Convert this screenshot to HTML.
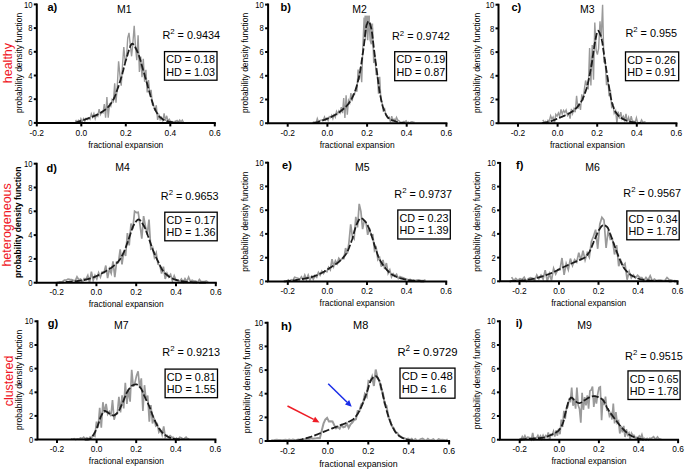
<!DOCTYPE html>
<html><head><meta charset="utf-8"><style>
html,body{margin:0;padding:0;background:#fff;width:685px;height:470px;overflow:hidden;}
svg{display:block;}
text{font-family:"Liberation Sans", sans-serif;fill:#000;}
</style></head><body>
<svg width="685" height="470" viewBox="0 0 685 470">
<rect width="685" height="470" fill="#fff"/>
<path d="M75.7,119.9 L77.0,122.7 L78.3,120.5 L79.6,122.8 L80.9,118.7 L82.2,121.8 L83.5,118.7 L84.8,121.1 L86.1,118.3 L87.4,119.5 L88.7,118.0 L90.0,119.3 L91.3,113.8 L92.6,117.3 L93.9,113.6 L95.2,118.7 L96.5,114.8 L97.8,116.2 L99.1,109.1 L100.4,114.6 L101.7,112.1 L103.0,112.9 L104.3,104.0 L105.6,117.8 L106.9,97.1 L108.2,117.8 L109.5,104.4 L110.8,106.3 L112.1,99.7 L113.4,101.5 L114.7,83.4 L116.0,102.7 L117.3,86.0 L118.6,61.3 L119.9,74.9 L121.2,85.6 L122.5,65.3 L123.8,47.1 L125.1,60.7 L126.4,59.7 L127.7,38.2 L129.0,32.8 L130.3,45.3 L131.6,56.3 L132.9,42.7 L134.2,25.7 L135.5,47.2 L136.8,60.2 L138.1,35.2 L139.4,71.9 L140.7,56.5 L142.0,77.3 L143.3,58.9 L144.6,81.8 L145.9,69.8 L147.2,92.5 L148.5,80.0 L149.8,93.8 L151.1,89.9 L152.4,104.7 L153.7,105.8 L155.0,110.8 L156.3,105.2 L157.6,119.9 L158.9,115.2 L160.2,119.8 L161.5,117.5 L162.8,121.5 L164.1,113.3 L165.4,120.8 L166.7,115.8 L168.0,121.0 L169.3,119.3 L170.6,121.6 L171.9,121.5 L173.2,122.7 L174.5,121.5 L175.8,121.0 L177.1,120.3 L178.4,122.2 L179.7,120.1 L181.0,122.2 L182.3,120.1 L183.6,122.5" fill="none" stroke="#9a9a9a" stroke-width="1.4" stroke-linejoin="miter"/>
<path d="M74.6,122.9 L75.0,122.8 L75.4,122.7 L75.7,122.5 L76.1,122.4 L76.5,122.3 L76.9,122.2 L77.2,122.1 L77.6,122.0 L78.0,121.8 L78.3,121.7 L78.7,121.6 L79.1,121.5 L79.5,121.3 L79.8,121.2 L80.2,121.1 L80.6,121.0 L81.0,120.9 L81.3,120.7 L81.7,120.6 L82.1,120.5 L82.4,120.4 L82.8,120.3 L83.2,120.1 L83.6,120.0 L83.9,119.9 L84.3,119.7 L84.7,119.6 L85.0,119.5 L85.4,119.4 L85.8,119.2 L86.2,119.1 L86.5,119.0 L86.9,118.8 L87.3,118.7 L87.6,118.5 L88.0,118.4 L88.4,118.3 L88.8,118.1 L89.1,118.0 L89.5,117.8 L89.9,117.7 L90.3,117.6 L90.6,117.4 L91.0,117.3 L91.4,117.1 L91.7,117.0 L92.1,116.9 L92.5,116.7 L92.9,116.6 L93.2,116.4 L93.6,116.2 L94.0,116.1 L94.3,115.9 L94.7,115.8 L95.1,115.6 L95.5,115.4 L95.8,115.3 L96.2,115.1 L96.6,114.9 L96.9,114.8 L97.3,114.6 L97.7,114.4 L98.1,114.2 L98.4,114.0 L98.8,113.8 L99.2,113.6 L99.6,113.4 L99.9,113.2 L100.3,113.0 L100.7,112.8 L101.0,112.5 L101.4,112.3 L101.8,112.1 L102.2,111.8 L102.5,111.6 L102.9,111.3 L103.3,111.1 L103.6,110.8 L104.0,110.5 L104.4,110.3 L104.8,110.0 L105.1,109.7 L105.5,109.4 L105.9,109.0 L106.3,108.7 L106.6,108.4 L107.0,108.0 L107.4,107.7 L107.7,107.3 L108.1,107.0 L108.5,106.6 L108.9,106.1 L109.2,105.7 L109.6,105.3 L110.0,104.8 L110.3,104.3 L110.7,103.8 L111.1,103.3 L111.5,102.8 L111.8,102.2 L112.2,101.6 L112.6,101.0 L112.9,100.4 L113.3,99.7 L113.7,99.0 L114.1,98.2 L114.4,97.4 L114.8,96.5 L115.2,95.5 L115.6,94.5 L115.9,93.5 L116.3,92.4 L116.7,91.4 L117.0,90.3 L117.4,89.3 L117.8,88.2 L118.2,87.2 L118.5,86.1 L118.9,85.0 L119.3,83.8 L119.6,82.7 L120.0,81.5 L120.4,80.3 L120.8,79.1 L121.1,77.9 L121.5,76.7 L121.9,75.4 L122.3,74.0 L122.6,72.6 L123.0,71.2 L123.4,69.7 L123.7,68.2 L124.1,66.7 L124.5,65.3 L124.9,63.8 L125.2,62.4 L125.6,61.1 L126.0,59.8 L126.3,58.6 L126.7,57.4 L127.1,56.2 L127.5,55.0 L127.8,53.8 L128.2,52.5 L128.6,51.3 L128.9,50.1 L129.3,48.9 L129.7,47.8 L130.1,46.8 L130.4,45.9 L130.8,45.2 L131.2,44.6 L131.6,44.1 L131.9,43.8 L132.3,43.7 L132.7,43.8 L133.0,44.0 L133.4,44.3 L133.8,44.8 L134.2,45.3 L134.5,45.9 L134.9,46.5 L135.3,47.2 L135.6,48.0 L136.0,48.7 L136.4,49.5 L136.8,50.4 L137.1,51.2 L137.5,52.0 L137.9,52.8 L138.2,53.7 L138.6,54.7 L139.0,55.8 L139.4,56.9 L139.7,58.1 L140.1,59.3 L140.5,60.6 L140.9,61.9 L141.2,63.2 L141.6,64.5 L142.0,65.9 L142.3,67.1 L142.7,68.4 L143.1,69.7 L143.5,70.9 L143.8,72.2 L144.2,73.5 L144.6,74.9 L144.9,76.2 L145.3,77.5 L145.7,78.9 L146.1,80.2 L146.4,81.5 L146.8,82.8 L147.2,84.1 L147.6,85.5 L147.9,86.8 L148.3,88.2 L148.7,89.5 L149.0,90.8 L149.4,92.1 L149.8,93.4 L150.2,94.7 L150.5,96.0 L150.9,97.2 L151.3,98.4 L151.6,99.7 L152.0,100.9 L152.4,102.1 L152.8,103.3 L153.1,104.5 L153.5,105.6 L153.9,106.6 L154.2,107.6 L154.6,108.5 L155.0,109.2 L155.4,110.0 L155.7,110.7 L156.1,111.5 L156.5,112.1 L156.9,112.8 L157.2,113.4 L157.6,114.0 L158.0,114.6 L158.3,115.1 L158.7,115.6 L159.1,116.1 L159.5,116.5 L159.8,116.8 L160.2,117.2 L160.6,117.5 L160.9,117.8 L161.3,118.1 L161.7,118.4 L162.1,118.7 L162.4,119.0 L162.8,119.3 L163.2,119.5 L163.6,119.7 L163.9,119.9 L164.3,120.1 L164.7,120.3 L165.0,120.5 L165.4,120.6 L165.8,120.7 L166.2,120.9 L166.5,121.0 L166.9,121.1 L167.3,121.2 L167.6,121.3 L168.0,121.4 L168.4,121.5 L168.8,121.6 L169.1,121.7 L169.5,121.8 L169.9,121.8 L170.2,121.9 L170.6,122.0 L171.0,122.0 L171.4,122.1 L171.7,122.2 L172.1,122.2 L172.5,122.3 L172.9,122.3 L173.2,122.4 L173.6,122.4 L174.0,122.4 L174.3,122.4 L174.7,122.5 L175.1,122.5 L175.5,122.5 L175.8,122.5 L176.2,122.6 L176.6,122.6 L176.9,122.6 L177.3,122.6 L177.7,122.7 L178.1,122.7 L178.4,122.7 L178.8,122.7 L179.2,122.7 L179.5,122.7 L179.9,122.8 L180.3,122.8 L180.7,122.8 L181.0,122.8 L181.4,122.8 L181.8,122.8 L182.2,122.8 L182.5,122.9 L182.9,122.9 L183.3,122.9 L183.6,122.9 L184.0,122.9 L184.4,122.9 L184.8,122.9 L185.1,122.9 L185.5,122.9 L185.9,122.9" fill="none" stroke="#1c1c1c" stroke-width="1.8" stroke-dasharray="7 2.2"/>
<path d="M36.8,3.4 V122.9 H215.8" fill="none" stroke="#000" stroke-width="2"/>
<line x1="33.8" y1="122.9" x2="36.8" y2="122.9" stroke="#000" stroke-width="2"/>
<text transform="translate(32.5,126.0) scale(0.88,1)" text-anchor="end" font-size="8.70">0</text>
<line x1="33.8" y1="99.2" x2="36.8" y2="99.2" stroke="#000" stroke-width="2"/>
<text transform="translate(32.5,102.3) scale(0.88,1)" text-anchor="end" font-size="8.70">2</text>
<line x1="33.8" y1="75.5" x2="36.8" y2="75.5" stroke="#000" stroke-width="2"/>
<text transform="translate(32.5,78.6) scale(0.88,1)" text-anchor="end" font-size="8.70">4</text>
<line x1="33.8" y1="51.8" x2="36.8" y2="51.8" stroke="#000" stroke-width="2"/>
<text transform="translate(32.5,54.9) scale(0.88,1)" text-anchor="end" font-size="8.70">6</text>
<line x1="33.8" y1="28.1" x2="36.8" y2="28.1" stroke="#000" stroke-width="2"/>
<text transform="translate(32.5,31.2) scale(0.88,1)" text-anchor="end" font-size="8.70">8</text>
<line x1="33.8" y1="4.4" x2="36.8" y2="4.4" stroke="#000" stroke-width="2"/>
<text transform="translate(32.5,7.5) scale(0.88,1)" text-anchor="end" font-size="8.70">10</text>
<line x1="36.8" y1="122.9" x2="36.8" y2="126.4" stroke="#000" stroke-width="2"/>
<text x="36.8" y="135.6" text-anchor="middle" font-size="8.40">-0.2</text>
<line x1="81.3" y1="122.9" x2="81.3" y2="126.4" stroke="#000" stroke-width="2"/>
<text x="81.3" y="135.6" text-anchor="middle" font-size="8.40">0.0</text>
<line x1="125.8" y1="122.9" x2="125.8" y2="126.4" stroke="#000" stroke-width="2"/>
<text x="125.8" y="135.6" text-anchor="middle" font-size="8.40">0.2</text>
<line x1="170.3" y1="122.9" x2="170.3" y2="126.4" stroke="#000" stroke-width="2"/>
<text x="170.3" y="135.6" text-anchor="middle" font-size="8.40">0.4</text>
<line x1="214.8" y1="122.9" x2="214.8" y2="126.4" stroke="#000" stroke-width="2"/>
<text x="214.8" y="135.6" text-anchor="middle" font-size="8.40">0.6</text>
<text x="125.8" y="147.5" text-anchor="middle" font-size="8.45">fractional expansion</text>
<text transform="translate(21.5,62.9) rotate(-90)" text-anchor="middle" font-size="8.50">probability density function</text>
<text x="47.5" y="11.2" font-size="11.00" font-weight="bold">a)</text>
<text x="117.1" y="13.1" font-size="10.50">M1</text>
<text x="162.4" y="38.6" font-size="10.85">R<tspan font-size="7.80" dy="-4.7">2</tspan><tspan dy="4.7"> = 0.9434</tspan></text>
<rect x="164.5" y="51.6" width="52.5" height="28.6" fill="none" stroke="#000" stroke-width="1.3"/>
<text x="166.2" y="63.2" font-size="10.80">CD = 0.18</text>
<text x="166.2" y="75.5" font-size="10.80">HD = 1.03</text>
<path d="M312.5,122.8 L313.7,122.0 L314.9,122.2 L316.1,122.8 L317.3,118.6 L318.5,122.0 L319.7,120.5 L320.9,120.1 L322.1,120.0 L323.3,120.0 L324.5,116.9 L325.7,119.9 L326.9,118.1 L328.1,120.5 L329.3,116.6 L330.5,117.6 L331.7,115.2 L332.9,118.7 L334.1,114.8 L335.3,117.1 L336.5,111.4 L337.7,114.0 L338.9,110.8 L340.1,112.8 L341.3,107.1 L342.5,113.2 L343.7,98.1 L344.9,117.9 L346.1,95.4 L347.3,114.7 L348.5,100.4 L349.7,103.0 L350.9,93.2 L352.1,101.2 L353.3,94.3 L354.5,94.7 L355.7,88.2 L356.9,91.8 L358.1,69.5 L359.3,79.6 L360.5,66.7 L361.7,82.3 L362.9,45.0 L364.1,17.6 L365.3,40.2 L366.5,17.6 L367.7,40.2 L368.9,17.6 L370.1,40.2 L371.3,44.3 L372.5,27.6 L373.7,63.1 L374.9,55.1 L376.1,74.3 L377.3,74.4 L378.5,93.8 L379.7,76.8 L380.9,100.1 L382.1,102.7 L383.3,111.7 L384.5,107.9 L385.7,114.7 L386.9,115.6 L388.1,118.2 L389.3,117.2 L390.5,122.4 L391.7,116.1 L392.9,120.5 L394.1,119.1 L395.3,120.6 L396.5,117.4 L397.7,120.1 L398.9,120.5 L400.1,123.1 L401.3,122.5 L402.5,122.2 L403.7,121.4 L404.9,121.7 L406.1,120.8 L407.3,122.8 L408.5,122.1 L409.7,123.0 L410.9,121.9 L412.1,121.8 L413.3,122.1 L414.5,122.3" fill="none" stroke="#9a9a9a" stroke-width="1.4" stroke-linejoin="miter"/>
<rect x="364.4" y="15.6" width="5.6" height="12" fill="#9e9e9e"/>
<rect x="370" y="23.5" width="3.2" height="17" fill="#a4a4a4"/>
<path d="M313.5,123.2 L313.8,123.1 L314.1,123.1 L314.4,123.0 L314.7,122.9 L315.1,122.8 L315.4,122.7 L315.7,122.7 L316.0,122.6 L316.3,122.5 L316.6,122.4 L316.9,122.3 L317.2,122.2 L317.5,122.1 L317.8,122.1 L318.1,122.0 L318.4,121.9 L318.7,121.8 L319.0,121.7 L319.4,121.6 L319.7,121.5 L320.0,121.4 L320.3,121.3 L320.6,121.2 L320.9,121.1 L321.2,121.0 L321.5,120.9 L321.8,120.8 L322.1,120.7 L322.4,120.6 L322.7,120.4 L323.0,120.3 L323.3,120.2 L323.7,120.1 L324.0,120.0 L324.3,119.9 L324.6,119.8 L324.9,119.7 L325.2,119.5 L325.5,119.4 L325.8,119.3 L326.1,119.2 L326.4,119.0 L326.7,118.9 L327.0,118.8 L327.3,118.7 L327.6,118.5 L328.0,118.4 L328.3,118.3 L328.6,118.1 L328.9,118.0 L329.2,117.9 L329.5,117.7 L329.8,117.6 L330.1,117.5 L330.4,117.3 L330.7,117.2 L331.0,117.0 L331.3,116.9 L331.6,116.7 L331.9,116.6 L332.3,116.4 L332.6,116.3 L332.9,116.1 L333.2,115.9 L333.5,115.8 L333.8,115.6 L334.1,115.4 L334.4,115.3 L334.7,115.1 L335.0,114.9 L335.3,114.7 L335.6,114.6 L335.9,114.4 L336.2,114.2 L336.5,114.0 L336.9,113.8 L337.2,113.6 L337.5,113.4 L337.8,113.2 L338.1,113.0 L338.4,112.8 L338.7,112.6 L339.0,112.4 L339.3,112.2 L339.6,111.9 L339.9,111.7 L340.2,111.5 L340.5,111.3 L340.8,111.0 L341.2,110.8 L341.5,110.6 L341.8,110.3 L342.1,110.1 L342.4,109.8 L342.7,109.6 L343.0,109.3 L343.3,109.1 L343.6,108.8 L343.9,108.5 L344.2,108.3 L344.5,108.0 L344.8,107.7 L345.1,107.4 L345.5,107.1 L345.8,106.8 L346.1,106.5 L346.4,106.2 L346.7,105.9 L347.0,105.5 L347.3,105.2 L347.6,104.8 L347.9,104.4 L348.2,104.1 L348.5,103.7 L348.8,103.3 L349.1,102.9 L349.4,102.4 L349.8,102.0 L350.1,101.5 L350.4,101.1 L350.7,100.6 L351.0,100.0 L351.3,99.5 L351.6,98.9 L351.9,98.4 L352.2,97.8 L352.5,97.2 L352.8,96.5 L353.1,95.9 L353.4,95.2 L353.7,94.5 L354.1,93.7 L354.4,93.0 L354.7,92.2 L355.0,91.4 L355.3,90.6 L355.6,89.8 L355.9,88.8 L356.2,87.9 L356.5,86.8 L356.8,85.7 L357.1,84.6 L357.4,83.4 L357.7,82.2 L358.0,80.9 L358.4,79.6 L358.7,78.3 L359.0,76.9 L359.3,75.4 L359.6,73.9 L359.9,72.4 L360.2,70.9 L360.5,69.2 L360.8,67.4 L361.1,65.4 L361.4,63.4 L361.7,61.2 L362.0,59.1 L362.3,56.8 L362.6,54.5 L363.0,52.3 L363.3,50.0 L363.6,47.8 L363.9,45.5 L364.2,43.1 L364.5,40.4 L364.8,37.7 L365.1,34.9 L365.4,32.3 L365.7,29.9 L366.0,27.8 L366.3,26.1 L366.6,24.9 L366.9,24.1 L367.3,23.3 L367.6,22.5 L367.9,21.9 L368.2,21.5 L368.5,21.2 L368.8,21.2 L369.1,21.5 L369.4,22.1 L369.7,22.8 L370.0,23.7 L370.3,24.8 L370.6,25.9 L370.9,27.0 L371.2,28.3 L371.6,30.0 L371.9,31.9 L372.2,34.2 L372.5,36.6 L372.8,39.2 L373.1,41.8 L373.4,44.4 L373.7,47.0 L374.0,49.4 L374.3,51.7 L374.6,54.1 L374.9,56.5 L375.2,58.9 L375.5,61.3 L375.9,63.7 L376.2,66.1 L376.5,68.5 L376.8,70.8 L377.1,73.1 L377.4,75.3 L377.7,77.6 L378.0,80.0 L378.3,82.3 L378.6,84.6 L378.9,86.8 L379.2,89.0 L379.5,91.1 L379.8,93.0 L380.2,94.8 L380.5,96.4 L380.8,97.9 L381.1,99.4 L381.4,100.8 L381.7,102.2 L382.0,103.4 L382.3,104.6 L382.6,105.8 L382.9,106.8 L383.2,107.7 L383.5,108.6 L383.8,109.4 L384.1,110.3 L384.5,111.1 L384.8,111.9 L385.1,112.6 L385.4,113.3 L385.7,114.0 L386.0,114.7 L386.3,115.3 L386.6,115.8 L386.9,116.3 L387.2,116.8 L387.5,117.2 L387.8,117.5 L388.1,117.8 L388.4,118.0 L388.8,118.3 L389.1,118.5 L389.4,118.7 L389.7,118.9 L390.0,119.1 L390.3,119.3 L390.6,119.5 L390.9,119.6 L391.2,119.8 L391.5,119.9 L391.8,120.1 L392.1,120.2 L392.4,120.4 L392.7,120.5 L393.0,120.6 L393.4,120.7 L393.7,120.8 L394.0,120.9 L394.3,121.0 L394.6,121.1 L394.9,121.2 L395.2,121.3 L395.5,121.4 L395.8,121.5 L396.1,121.6 L396.4,121.6 L396.7,121.7 L397.0,121.8 L397.3,121.9 L397.7,122.0 L398.0,122.0 L398.3,122.1 L398.6,122.2 L398.9,122.3 L399.2,122.3 L399.5,122.4 L399.8,122.5 L400.1,122.6 L400.4,122.6 L400.7,122.7 L401.0,122.7 L401.3,122.8 L401.6,122.8 L402.0,122.9 L402.3,122.9 L402.6,123.0 L402.9,123.0 L403.2,123.1 L403.5,123.1 L403.8,123.1 L404.1,123.1 L404.4,123.2 L404.7,123.2 L405.0,123.2 L405.3,123.2" fill="none" stroke="#1c1c1c" stroke-width="1.8" stroke-dasharray="7 2.2"/>
<path d="M268.1,3.6 V123.2 H447.4" fill="none" stroke="#000" stroke-width="2"/>
<line x1="265.1" y1="123.2" x2="268.1" y2="123.2" stroke="#000" stroke-width="2"/>
<text transform="translate(263.8,126.3) scale(0.88,1)" text-anchor="end" font-size="8.70">0</text>
<line x1="265.1" y1="99.5" x2="268.1" y2="99.5" stroke="#000" stroke-width="2"/>
<text transform="translate(263.8,102.6) scale(0.88,1)" text-anchor="end" font-size="8.70">2</text>
<line x1="265.1" y1="75.8" x2="268.1" y2="75.8" stroke="#000" stroke-width="2"/>
<text transform="translate(263.8,78.9) scale(0.88,1)" text-anchor="end" font-size="8.70">4</text>
<line x1="265.1" y1="52.0" x2="268.1" y2="52.0" stroke="#000" stroke-width="2"/>
<text transform="translate(263.8,55.1) scale(0.88,1)" text-anchor="end" font-size="8.70">6</text>
<line x1="265.1" y1="28.3" x2="268.1" y2="28.3" stroke="#000" stroke-width="2"/>
<text transform="translate(263.8,31.4) scale(0.88,1)" text-anchor="end" font-size="8.70">8</text>
<line x1="265.1" y1="4.6" x2="268.1" y2="4.6" stroke="#000" stroke-width="2"/>
<text transform="translate(263.8,7.7) scale(0.88,1)" text-anchor="end" font-size="8.70">10</text>
<line x1="287.7" y1="123.2" x2="287.7" y2="126.7" stroke="#000" stroke-width="2"/>
<text x="287.7" y="135.9" text-anchor="middle" font-size="8.40">-0.2</text>
<line x1="327.4" y1="123.2" x2="327.4" y2="126.7" stroke="#000" stroke-width="2"/>
<text x="327.4" y="135.9" text-anchor="middle" font-size="8.40">0.0</text>
<line x1="367.1" y1="123.2" x2="367.1" y2="126.7" stroke="#000" stroke-width="2"/>
<text x="367.1" y="135.9" text-anchor="middle" font-size="8.40">0.2</text>
<line x1="406.7" y1="123.2" x2="406.7" y2="126.7" stroke="#000" stroke-width="2"/>
<text x="406.7" y="135.9" text-anchor="middle" font-size="8.40">0.4</text>
<line x1="446.4" y1="123.2" x2="446.4" y2="126.7" stroke="#000" stroke-width="2"/>
<text x="446.4" y="135.9" text-anchor="middle" font-size="8.40">0.6</text>
<text x="357.2" y="147.8" text-anchor="middle" font-size="8.45">fractional expansion</text>
<text transform="translate(248.2,62.9) rotate(-90)" text-anchor="middle" font-size="8.50">probability density function</text>
<text x="280.6" y="11.0" font-size="11.00" font-weight="bold">b)</text>
<text x="352.2" y="13.0" font-size="10.50">M2</text>
<text x="392.0" y="40.2" font-size="10.85">R<tspan font-size="7.80" dy="-4.7">2</tspan><tspan dy="4.7"> = 0.9742</tspan></text>
<rect x="394.7" y="51.7" width="51.8" height="29.0" fill="none" stroke="#000" stroke-width="1.3"/>
<text x="396.4" y="63.3" font-size="10.80">CD = 0.19</text>
<text x="396.4" y="75.6" font-size="10.80">HD = 0.87</text>
<path d="M542.8,119.8 L544.1,122.2 L545.4,121.4 L546.6,123.0 L548.0,120.2 L549.2,121.5 L550.6,115.8 L551.9,119.1 L553.1,117.0 L554.5,122.6 L555.8,114.3 L557.1,116.1 L558.4,113.0 L559.6,116.4 L561.0,109.4 L562.2,114.2 L563.6,110.3 L564.9,112.5 L566.1,110.0 L567.5,115.5 L568.8,113.5 L570.1,118.7 L571.4,108.8 L572.6,113.6 L574.0,108.8 L575.2,112.3 L576.6,95.7 L577.9,108.8 L579.1,103.1 L580.5,109.9 L581.8,94.3 L583.1,100.5 L584.4,88.9 L585.6,80.5 L587.0,85.8 L588.2,89.4 L589.6,48.0 L590.9,85.4 L592.2,45.0 L593.5,79.7 L594.8,22.5 L596.1,50.3 L597.4,54.5 L598.6,48.6 L600.0,21.3 L601.2,38.2 L602.6,4.7 L603.9,62.6 L605.1,59.1 L606.5,85.1 L607.8,77.3 L609.1,96.1 L610.4,90.0 L611.6,106.9 L613.0,104.7 L614.2,113.2 L615.6,110.6 L616.9,123.2 L618.1,111.6 L619.5,118.5 L620.8,112.1 L622.1,118.8 L623.4,116.3 L624.7,120.3 L626.0,113.8 L627.2,121.6 L628.6,117.4 L629.9,123.0 L631.2,116.1 L632.5,121.7 L633.8,121.2 L635.1,122.7 L636.4,117.8 L637.7,122.9 L639.0,122.6 L640.2,123.1 L641.6,119.9 L642.9,122.5 L644.2,121.9 L645.5,121.8" fill="none" stroke="#9a9a9a" stroke-width="1.4" stroke-linejoin="miter"/>
<path d="M541.8,123.2 L542.1,123.2 L542.4,123.1 L542.8,123.1 L543.1,123.0 L543.4,123.0 L543.7,122.9 L544.1,122.9 L544.4,122.8 L544.7,122.8 L545.1,122.7 L545.4,122.6 L545.7,122.6 L546.1,122.5 L546.4,122.4 L546.7,122.4 L547.1,122.3 L547.4,122.2 L547.7,122.2 L548.1,122.1 L548.4,122.0 L548.7,121.9 L549.0,121.8 L549.4,121.7 L549.7,121.6 L550.0,121.5 L550.4,121.4 L550.7,121.3 L551.0,121.2 L551.4,121.1 L551.7,121.0 L552.0,120.8 L552.4,120.7 L552.7,120.6 L553.0,120.5 L553.3,120.3 L553.7,120.2 L554.0,120.1 L554.3,119.9 L554.7,119.8 L555.0,119.7 L555.3,119.5 L555.7,119.4 L556.0,119.3 L556.3,119.1 L556.7,119.0 L557.0,118.8 L557.3,118.7 L557.7,118.6 L558.0,118.4 L558.3,118.3 L558.6,118.1 L559.0,118.0 L559.3,117.9 L559.6,117.7 L560.0,117.6 L560.3,117.4 L560.6,117.3 L561.0,117.2 L561.3,117.0 L561.6,116.9 L562.0,116.8 L562.3,116.6 L562.6,116.5 L563.0,116.3 L563.3,116.2 L563.6,116.1 L563.9,115.9 L564.3,115.8 L564.6,115.6 L564.9,115.5 L565.3,115.3 L565.6,115.2 L565.9,115.0 L566.3,114.9 L566.6,114.7 L566.9,114.5 L567.3,114.4 L567.6,114.2 L567.9,114.0 L568.2,113.9 L568.6,113.7 L568.9,113.5 L569.2,113.3 L569.6,113.1 L569.9,112.9 L570.2,112.7 L570.6,112.5 L570.9,112.3 L571.2,112.1 L571.6,111.9 L571.9,111.7 L572.2,111.5 L572.6,111.2 L572.9,111.0 L573.2,110.7 L573.5,110.5 L573.9,110.2 L574.2,109.9 L574.5,109.7 L574.9,109.4 L575.2,109.1 L575.5,108.8 L575.9,108.5 L576.2,108.1 L576.5,107.8 L576.9,107.4 L577.2,107.1 L577.5,106.7 L577.9,106.3 L578.2,106.0 L578.5,105.5 L578.8,105.1 L579.2,104.7 L579.5,104.3 L579.8,103.8 L580.2,103.3 L580.5,102.9 L580.8,102.4 L581.2,101.8 L581.5,101.2 L581.8,100.6 L582.2,99.9 L582.5,99.3 L582.8,98.5 L583.1,97.8 L583.5,97.0 L583.8,96.2 L584.1,95.3 L584.5,94.5 L584.8,93.6 L585.1,92.6 L585.5,91.7 L585.8,90.7 L586.1,89.7 L586.5,88.6 L586.8,87.5 L587.1,86.4 L587.5,85.1 L587.8,83.8 L588.1,82.3 L588.4,80.9 L588.8,79.3 L589.1,77.7 L589.4,76.1 L589.8,74.4 L590.1,72.7 L590.4,70.9 L590.8,69.1 L591.1,67.3 L591.4,65.5 L591.8,63.5 L592.1,61.3 L592.4,59.1 L592.7,56.7 L593.1,54.3 L593.4,52.0 L593.7,49.6 L594.1,47.4 L594.4,45.4 L594.7,43.5 L595.1,41.8 L595.4,40.2 L595.7,38.5 L596.1,36.8 L596.4,35.2 L596.7,33.7 L597.1,32.5 L597.4,31.5 L597.7,30.9 L598.0,30.8 L598.4,30.9 L598.7,31.2 L599.0,31.7 L599.4,32.3 L599.7,33.1 L600.0,33.9 L600.4,34.8 L600.7,35.8 L601.0,36.8 L601.4,37.8 L601.7,39.2 L602.0,40.9 L602.4,42.8 L602.7,45.0 L603.0,47.2 L603.3,49.6 L603.7,52.0 L604.0,54.4 L604.3,56.7 L604.7,58.9 L605.0,61.0 L605.3,63.1 L605.7,65.3 L606.0,67.5 L606.3,69.7 L606.7,71.9 L607.0,74.1 L607.3,76.2 L607.6,78.3 L608.0,80.4 L608.3,82.5 L608.6,84.4 L609.0,86.5 L609.3,88.5 L609.6,90.6 L610.0,92.7 L610.3,94.7 L610.6,96.6 L611.0,98.4 L611.3,100.0 L611.6,101.5 L612.0,102.7 L612.3,103.8 L612.6,104.8 L612.9,105.8 L613.3,106.7 L613.6,107.6 L613.9,108.5 L614.3,109.3 L614.6,110.0 L614.9,110.7 L615.3,111.4 L615.6,112.0 L615.9,112.6 L616.3,113.1 L616.6,113.6 L616.9,114.0 L617.3,114.4 L617.6,114.7 L617.9,115.1 L618.2,115.4 L618.6,115.8 L618.9,116.1 L619.2,116.4 L619.6,116.7 L619.9,116.9 L620.2,117.2 L620.6,117.5 L620.9,117.7 L621.2,117.9 L621.6,118.1 L621.9,118.4 L622.2,118.6 L622.5,118.8 L622.9,118.9 L623.2,119.1 L623.5,119.3 L623.9,119.4 L624.2,119.6 L624.5,119.7 L624.9,119.9 L625.2,120.0 L625.5,120.2 L625.9,120.3 L626.2,120.4 L626.5,120.5 L626.9,120.7 L627.2,120.8 L627.5,120.9 L627.8,121.0 L628.2,121.1 L628.5,121.2 L628.8,121.3 L629.2,121.4 L629.5,121.5 L629.8,121.6 L630.2,121.7 L630.5,121.8 L630.8,121.8 L631.2,121.9 L631.5,122.0 L631.8,122.1 L632.2,122.1 L632.5,122.2 L632.8,122.2 L633.1,122.3 L633.5,122.4 L633.8,122.4 L634.1,122.5 L634.5,122.5 L634.8,122.6 L635.1,122.6 L635.5,122.7 L635.8,122.7 L636.1,122.8 L636.5,122.8 L636.8,122.9 L637.1,122.9 L637.4,122.9 L637.8,123.0 L638.1,123.0 L638.4,123.1 L638.8,123.1 L639.1,123.1 L639.4,123.1 L639.8,123.2 L640.1,123.2 L640.4,123.2 L640.8,123.2" fill="none" stroke="#1c1c1c" stroke-width="1.8" stroke-dasharray="7 2.2"/>
<path d="M498.5,3.7 V123.2 H677.4" fill="none" stroke="#000" stroke-width="2"/>
<line x1="495.5" y1="123.2" x2="498.5" y2="123.2" stroke="#000" stroke-width="2"/>
<text transform="translate(494.2,126.3) scale(0.88,1)" text-anchor="end" font-size="8.70">0</text>
<line x1="495.5" y1="99.5" x2="498.5" y2="99.5" stroke="#000" stroke-width="2"/>
<text transform="translate(494.2,102.6) scale(0.88,1)" text-anchor="end" font-size="8.70">2</text>
<line x1="495.5" y1="75.8" x2="498.5" y2="75.8" stroke="#000" stroke-width="2"/>
<text transform="translate(494.2,78.9) scale(0.88,1)" text-anchor="end" font-size="8.70">4</text>
<line x1="495.5" y1="52.1" x2="498.5" y2="52.1" stroke="#000" stroke-width="2"/>
<text transform="translate(494.2,55.2) scale(0.88,1)" text-anchor="end" font-size="8.70">6</text>
<line x1="495.5" y1="28.4" x2="498.5" y2="28.4" stroke="#000" stroke-width="2"/>
<text transform="translate(494.2,31.5) scale(0.88,1)" text-anchor="end" font-size="8.70">8</text>
<line x1="495.5" y1="4.7" x2="498.5" y2="4.7" stroke="#000" stroke-width="2"/>
<text transform="translate(494.2,7.8) scale(0.88,1)" text-anchor="end" font-size="8.70">10</text>
<line x1="518.0" y1="123.2" x2="518.0" y2="126.7" stroke="#000" stroke-width="2"/>
<text x="518.0" y="135.9" text-anchor="middle" font-size="8.40">-0.2</text>
<line x1="557.6" y1="123.2" x2="557.6" y2="126.7" stroke="#000" stroke-width="2"/>
<text x="557.6" y="135.9" text-anchor="middle" font-size="8.40">0.0</text>
<line x1="597.2" y1="123.2" x2="597.2" y2="126.7" stroke="#000" stroke-width="2"/>
<text x="597.2" y="135.9" text-anchor="middle" font-size="8.40">0.2</text>
<line x1="636.8" y1="123.2" x2="636.8" y2="126.7" stroke="#000" stroke-width="2"/>
<text x="636.8" y="135.9" text-anchor="middle" font-size="8.40">0.4</text>
<line x1="676.4" y1="123.2" x2="676.4" y2="126.7" stroke="#000" stroke-width="2"/>
<text x="676.4" y="135.9" text-anchor="middle" font-size="8.40">0.6</text>
<text x="587.5" y="147.8" text-anchor="middle" font-size="8.45">fractional expansion</text>
<text transform="translate(480.2,62.9) rotate(-90)" text-anchor="middle" font-size="8.50">probability density function</text>
<text x="511.5" y="11.0" font-size="11.00" font-weight="bold">c)</text>
<text x="579.9" y="13.0" font-size="10.50">M3</text>
<text x="625.4" y="36.7" font-size="10.85">R<tspan font-size="7.80" dy="-4.7">2</tspan><tspan dy="4.7"> = 0.955</tspan></text>
<rect x="625.5" y="51.9" width="53.2" height="28.8" fill="none" stroke="#000" stroke-width="1.3"/>
<text x="627.2" y="63.5" font-size="10.80">CD = 0.26</text>
<text x="627.2" y="75.8" font-size="10.80">HD = 0.91</text>
<path d="M62.6,281.4 L64.4,280.1 L66.2,280.2 L68.0,279.1 L69.8,279.4 L71.6,279.6 L73.4,280.4 L75.2,280.9 L77.0,276.8 L78.8,279.8 L80.6,279.0 L82.4,281.9 L84.2,278.6 L86.0,279.2 L87.8,275.4 L89.6,282.7 L91.4,271.7 L93.2,280.4 L95.0,275.4 L96.8,279.0 L98.6,272.8 L100.4,277.2 L102.2,272.0 L104.0,272.6 L105.8,265.5 L107.6,278.2 L109.4,269.0 L111.2,273.3 L113.0,261.4 L114.8,277.1 L116.6,262.0 L118.4,262.5 L120.2,249.4 L122.0,264.3 L123.8,251.1 L125.6,255.9 L127.4,233.0 L129.2,245.4 L131.0,223.6 L132.8,229.2 L134.6,211.3 L136.4,212.5 L138.2,212.3 L140.0,224.8 L141.8,238.7 L143.6,216.1 L145.4,226.2 L147.2,234.7 L149.0,219.5 L150.8,248.8 L152.6,247.5 L154.4,257.3 L156.2,252.9 L158.0,264.2 L159.8,265.0 L161.6,273.6 L163.4,266.6 L165.2,279.0 L167.0,273.3 L168.8,277.0 L170.6,274.4 L172.4,280.7 L174.2,275.9 L176.0,280.3 L177.8,280.2 L179.6,281.5 L181.4,279.0 L183.2,282.1 L185.0,278.6 L186.8,281.5 L188.6,277.1 L190.4,281.3 L192.2,280.3 L194.0,281.2 L195.8,281.2 L197.6,282.4 L199.4,279.5 L201.2,281.7 L203.0,281.5 L204.8,281.4 L206.6,281.2 L208.4,282.6" fill="none" stroke="#9a9a9a" stroke-width="1.7" stroke-linejoin="miter"/>
<path d="M56.6,282.7 L57.1,282.7 L57.6,282.6 L58.1,282.6 L58.6,282.6 L59.1,282.5 L59.6,282.5 L60.1,282.5 L60.6,282.4 L61.1,282.4 L61.6,282.4 L62.1,282.3 L62.6,282.3 L63.1,282.3 L63.6,282.2 L64.1,282.2 L64.6,282.2 L65.1,282.1 L65.6,282.1 L66.1,282.0 L66.6,282.0 L67.1,282.0 L67.6,281.9 L68.1,281.9 L68.6,281.8 L69.1,281.8 L69.6,281.7 L70.1,281.7 L70.6,281.7 L71.1,281.6 L71.6,281.6 L72.1,281.5 L72.6,281.5 L73.1,281.4 L73.6,281.4 L74.1,281.4 L74.6,281.3 L75.1,281.3 L75.6,281.2 L76.1,281.2 L76.6,281.1 L77.1,281.1 L77.6,281.0 L78.1,281.0 L78.6,280.9 L79.1,280.8 L79.6,280.8 L80.1,280.7 L80.6,280.7 L81.1,280.6 L81.6,280.5 L82.1,280.4 L82.6,280.4 L83.1,280.3 L83.6,280.2 L84.1,280.1 L84.6,280.0 L85.1,279.9 L85.6,279.7 L86.1,279.6 L86.5,279.5 L87.0,279.4 L87.5,279.2 L88.0,279.1 L88.5,278.9 L89.0,278.8 L89.5,278.6 L90.0,278.5 L90.5,278.3 L91.0,278.1 L91.5,278.0 L92.0,277.8 L92.5,277.6 L93.0,277.5 L93.5,277.3 L94.0,277.1 L94.5,276.9 L95.0,276.7 L95.5,276.5 L96.0,276.3 L96.5,276.0 L97.0,275.8 L97.5,275.6 L98.0,275.3 L98.5,275.1 L99.0,274.8 L99.5,274.6 L100.0,274.3 L100.5,274.1 L101.0,273.8 L101.5,273.5 L102.0,273.3 L102.5,273.0 L103.0,272.7 L103.5,272.5 L104.0,272.2 L104.5,271.9 L105.0,271.7 L105.5,271.4 L106.0,271.1 L106.5,270.8 L107.0,270.5 L107.5,270.2 L108.0,269.9 L108.5,269.6 L109.0,269.3 L109.5,268.9 L110.0,268.6 L110.5,268.2 L111.0,267.9 L111.5,267.5 L112.0,267.2 L112.5,266.8 L113.0,266.4 L113.5,266.0 L114.0,265.6 L114.5,265.2 L115.0,264.8 L115.5,264.4 L116.0,263.9 L116.5,263.4 L117.0,262.9 L117.5,262.4 L118.0,261.9 L118.5,261.3 L119.0,260.6 L119.5,259.9 L120.0,259.2 L120.5,258.4 L121.0,257.6 L121.5,256.7 L122.0,255.8 L122.5,254.8 L123.0,253.8 L123.5,252.8 L124.0,251.8 L124.5,250.6 L125.0,249.4 L125.5,248.1 L126.0,246.7 L126.5,245.3 L127.0,243.9 L127.5,242.5 L128.0,241.0 L128.5,239.6 L129.0,238.2 L129.5,236.8 L130.0,235.3 L130.5,233.8 L131.0,232.2 L131.5,230.6 L132.0,229.2 L132.5,227.8 L133.0,226.6 L133.5,225.6 L134.0,224.7 L134.5,223.9 L135.0,223.1 L135.5,222.3 L136.0,221.6 L136.5,220.9 L137.0,220.4 L137.5,219.9 L138.0,219.6 L138.5,219.5 L139.0,219.6 L139.5,219.8 L140.0,220.2 L140.5,220.7 L141.0,221.3 L141.5,222.0 L142.0,222.8 L142.5,223.6 L143.0,224.4 L143.5,225.2 L144.0,226.0 L144.5,227.0 L145.0,228.0 L145.5,229.2 L146.0,230.4 L146.4,231.7 L146.9,233.0 L147.4,234.3 L147.9,235.7 L148.4,237.0 L148.9,238.4 L149.4,239.9 L149.9,241.4 L150.4,242.9 L150.9,244.4 L151.4,245.9 L151.9,247.4 L152.4,248.7 L152.9,250.0 L153.4,251.2 L153.9,252.4 L154.4,253.6 L154.9,254.7 L155.4,255.9 L155.9,257.0 L156.4,258.1 L156.9,259.1 L157.4,260.2 L157.9,261.2 L158.4,262.2 L158.9,263.3 L159.4,264.3 L159.9,265.4 L160.4,266.4 L160.9,267.4 L161.4,268.4 L161.9,269.2 L162.4,270.1 L162.9,270.8 L163.4,271.5 L163.9,272.0 L164.4,272.6 L164.9,273.1 L165.4,273.6 L165.9,274.0 L166.4,274.5 L166.9,274.9 L167.4,275.3 L167.9,275.7 L168.4,276.0 L168.9,276.4 L169.4,276.7 L169.9,277.0 L170.4,277.3 L170.9,277.6 L171.4,277.9 L171.9,278.2 L172.4,278.5 L172.9,278.7 L173.4,279.0 L173.9,279.2 L174.4,279.4 L174.9,279.6 L175.4,279.7 L175.9,279.9 L176.4,280.0 L176.9,280.1 L177.4,280.3 L177.9,280.4 L178.4,280.5 L178.9,280.6 L179.4,280.7 L179.9,280.9 L180.4,281.0 L180.9,281.1 L181.4,281.1 L181.9,281.2 L182.4,281.3 L182.9,281.4 L183.4,281.5 L183.9,281.5 L184.4,281.6 L184.9,281.6 L185.4,281.7 L185.9,281.7 L186.4,281.8 L186.9,281.8 L187.4,281.9 L187.9,281.9 L188.4,281.9 L188.9,282.0 L189.4,282.0 L189.9,282.1 L190.4,282.1 L190.9,282.1 L191.4,282.2 L191.9,282.2 L192.4,282.2 L192.9,282.3 L193.4,282.3 L193.9,282.3 L194.4,282.3 L194.9,282.4 L195.4,282.4 L195.9,282.4 L196.4,282.5 L196.9,282.5 L197.4,282.5 L197.9,282.5 L198.4,282.5 L198.9,282.6 L199.4,282.6 L199.9,282.6 L200.4,282.6 L200.9,282.6 L201.4,282.6 L201.9,282.7 L202.4,282.7 L202.9,282.7 L203.4,282.7 L203.9,282.7 L204.4,282.7 L204.9,282.7 L205.4,282.7 L205.9,282.7" fill="none" stroke="#1c1c1c" stroke-width="1.8" stroke-dasharray="7 2.2"/>
<path d="M36.7,162.7 V282.7 H216.8" fill="none" stroke="#000" stroke-width="2"/>
<line x1="33.7" y1="282.7" x2="36.7" y2="282.7" stroke="#000" stroke-width="2"/>
<text transform="translate(32.4,285.8) scale(0.88,1)" text-anchor="end" font-size="8.70">0</text>
<line x1="33.7" y1="258.9" x2="36.7" y2="258.9" stroke="#000" stroke-width="2"/>
<text transform="translate(32.4,262.0) scale(0.88,1)" text-anchor="end" font-size="8.70">2</text>
<line x1="33.7" y1="235.1" x2="36.7" y2="235.1" stroke="#000" stroke-width="2"/>
<text transform="translate(32.4,238.2) scale(0.88,1)" text-anchor="end" font-size="8.70">4</text>
<line x1="33.7" y1="211.3" x2="36.7" y2="211.3" stroke="#000" stroke-width="2"/>
<text transform="translate(32.4,214.4) scale(0.88,1)" text-anchor="end" font-size="8.70">6</text>
<line x1="33.7" y1="187.5" x2="36.7" y2="187.5" stroke="#000" stroke-width="2"/>
<text transform="translate(32.4,190.6) scale(0.88,1)" text-anchor="end" font-size="8.70">8</text>
<line x1="33.7" y1="163.7" x2="36.7" y2="163.7" stroke="#000" stroke-width="2"/>
<text transform="translate(32.4,166.8) scale(0.88,1)" text-anchor="end" font-size="8.70">10</text>
<line x1="56.6" y1="282.7" x2="56.6" y2="286.2" stroke="#000" stroke-width="2"/>
<text x="56.6" y="295.4" text-anchor="middle" font-size="8.40">-0.2</text>
<line x1="96.4" y1="282.7" x2="96.4" y2="286.2" stroke="#000" stroke-width="2"/>
<text x="96.4" y="295.4" text-anchor="middle" font-size="8.40">0.0</text>
<line x1="136.2" y1="282.7" x2="136.2" y2="286.2" stroke="#000" stroke-width="2"/>
<text x="136.2" y="295.4" text-anchor="middle" font-size="8.40">0.2</text>
<line x1="176.0" y1="282.7" x2="176.0" y2="286.2" stroke="#000" stroke-width="2"/>
<text x="176.0" y="295.4" text-anchor="middle" font-size="8.40">0.4</text>
<line x1="215.8" y1="282.7" x2="215.8" y2="286.2" stroke="#000" stroke-width="2"/>
<text x="215.8" y="295.4" text-anchor="middle" font-size="8.40">0.6</text>
<text x="126.2" y="307.3" text-anchor="middle" font-size="8.45">fractional expansion</text>
<text transform="translate(21.2,222.3) rotate(-90)" text-anchor="middle" font-size="8.50" font-weight="bold">probability density function</text>
<text x="46.6" y="172.0" font-size="11.00" font-weight="bold">d)</text>
<text x="115.3" y="171.3" font-size="10.50">M4</text>
<text x="160.8" y="200.1" font-size="10.85">R<tspan font-size="7.80" dy="-4.7">2</tspan><tspan dy="4.7"> = 0.9653</tspan></text>
<rect x="164.8" y="212.2" width="52.4" height="28.6" fill="none" stroke="#000" stroke-width="1.3"/>
<text x="166.5" y="223.8" font-size="10.80">CD = 0.17</text>
<text x="166.5" y="236.1" font-size="10.80">HD = 1.36</text>
<path d="M287.8,279.2 L289.5,281.3 L291.2,279.7 L292.9,280.3 L294.6,277.2 L296.3,277.8 L298.0,278.2 L299.7,279.4 L301.4,276.9 L303.1,279.8 L304.8,275.2 L306.5,279.5 L308.2,275.1 L309.9,279.9 L311.6,276.5 L313.3,279.3 L315.0,275.7 L316.7,277.2 L318.4,272.5 L320.1,275.2 L321.8,271.3 L323.5,273.6 L325.2,270.8 L326.9,271.7 L328.6,267.3 L330.3,269.8 L332.0,259.2 L333.7,266.3 L335.4,260.8 L337.1,263.7 L338.8,258.3 L340.5,260.4 L342.2,258.5 L343.9,258.6 L345.6,248.1 L347.3,253.7 L349.0,242.1 L350.7,224.4 L352.4,236.8 L354.1,238.8 L355.8,216.8 L357.5,227.4 L359.2,203.9 L360.9,211.4 L362.6,229.2 L364.3,220.7 L366.0,222.1 L367.7,234.8 L369.4,228.2 L371.1,235.1 L372.8,234.8 L374.5,250.5 L376.2,247.7 L377.9,259.7 L379.6,257.7 L381.3,266.7 L383.0,260.0 L384.7,269.1 L386.4,263.1 L388.1,273.4 L389.8,270.0 L391.5,276.9 L393.2,273.8 L394.9,276.2 L396.6,274.4 L398.3,278.5 L400.0,276.5 L401.7,277.4 L403.4,277.8 L405.1,278.8 L406.8,279.2 L408.5,279.8 L410.2,279.5 L411.9,280.7 L413.6,279.9 L415.3,280.6 L417.0,280.0 L418.7,279.8 L420.4,280.4 L422.1,280.6 L423.8,280.6 L425.5,279.9" fill="none" stroke="#9a9a9a" stroke-width="1.7" stroke-linejoin="miter"/>
<path d="M283.8,281.4 L284.3,281.4 L284.8,281.3 L285.3,281.3 L285.7,281.3 L286.2,281.2 L286.7,281.2 L287.2,281.2 L287.7,281.1 L288.1,281.1 L288.6,281.0 L289.1,281.0 L289.6,280.9 L290.0,280.9 L290.5,280.8 L291.0,280.8 L291.5,280.7 L291.9,280.7 L292.4,280.6 L292.9,280.5 L293.4,280.5 L293.9,280.4 L294.3,280.3 L294.8,280.3 L295.3,280.2 L295.8,280.1 L296.2,280.0 L296.7,280.0 L297.2,279.9 L297.7,279.8 L298.1,279.7 L298.6,279.6 L299.1,279.6 L299.6,279.5 L300.1,279.4 L300.5,279.3 L301.0,279.2 L301.5,279.2 L302.0,279.1 L302.4,279.0 L302.9,278.9 L303.4,278.8 L303.9,278.8 L304.3,278.7 L304.8,278.6 L305.3,278.5 L305.8,278.4 L306.2,278.3 L306.7,278.2 L307.2,278.1 L307.7,278.0 L308.2,277.9 L308.6,277.8 L309.1,277.7 L309.6,277.6 L310.1,277.4 L310.5,277.3 L311.0,277.2 L311.5,277.1 L312.0,276.9 L312.4,276.8 L312.9,276.6 L313.4,276.4 L313.9,276.3 L314.4,276.1 L314.8,275.9 L315.3,275.7 L315.8,275.5 L316.3,275.4 L316.7,275.2 L317.2,275.0 L317.7,274.7 L318.2,274.5 L318.6,274.3 L319.1,274.1 L319.6,273.9 L320.1,273.7 L320.6,273.5 L321.0,273.2 L321.5,273.0 L322.0,272.8 L322.5,272.5 L322.9,272.2 L323.4,272.0 L323.9,271.7 L324.4,271.4 L324.8,271.1 L325.3,270.9 L325.8,270.6 L326.3,270.3 L326.8,270.0 L327.2,269.7 L327.7,269.3 L328.2,269.0 L328.7,268.7 L329.1,268.4 L329.6,268.1 L330.1,267.8 L330.6,267.5 L331.0,267.2 L331.5,266.9 L332.0,266.6 L332.5,266.3 L332.9,266.0 L333.4,265.7 L333.9,265.4 L334.4,265.1 L334.9,264.8 L335.3,264.5 L335.8,264.1 L336.3,263.8 L336.8,263.5 L337.2,263.1 L337.7,262.7 L338.2,262.4 L338.7,262.0 L339.1,261.6 L339.6,261.2 L340.1,260.7 L340.6,260.3 L341.1,259.8 L341.5,259.4 L342.0,258.9 L342.5,258.4 L343.0,257.9 L343.4,257.3 L343.9,256.7 L344.4,256.1 L344.9,255.5 L345.3,254.9 L345.8,254.2 L346.3,253.4 L346.8,252.7 L347.3,251.8 L347.7,250.8 L348.2,249.8 L348.7,248.7 L349.2,247.5 L349.6,246.2 L350.1,245.0 L350.6,243.7 L351.1,242.4 L351.5,241.0 L352.0,239.7 L352.5,238.2 L353.0,236.5 L353.5,234.8 L353.9,232.9 L354.4,231.1 L354.9,229.4 L355.4,227.8 L355.8,226.4 L356.3,225.2 L356.8,224.2 L357.3,223.2 L357.7,222.1 L358.2,221.2 L358.7,220.3 L359.2,219.5 L359.6,218.9 L360.1,218.4 L360.6,218.2 L361.1,218.1 L361.6,218.3 L362.0,218.5 L362.5,218.8 L363.0,219.1 L363.5,219.6 L363.9,220.1 L364.4,220.6 L364.9,221.1 L365.4,221.6 L365.8,222.2 L366.3,222.9 L366.8,223.7 L367.3,224.6 L367.8,225.6 L368.2,226.6 L368.7,227.7 L369.2,228.8 L369.7,230.0 L370.1,231.1 L370.6,232.4 L371.1,233.8 L371.6,235.4 L372.0,236.9 L372.5,238.6 L373.0,240.2 L373.5,241.8 L374.0,243.4 L374.4,244.9 L374.9,246.4 L375.4,247.9 L375.9,249.4 L376.3,250.9 L376.8,252.3 L377.3,253.7 L377.8,255.1 L378.2,256.3 L378.7,257.4 L379.2,258.4 L379.7,259.4 L380.2,260.3 L380.6,261.2 L381.1,262.0 L381.6,262.8 L382.1,263.6 L382.5,264.3 L383.0,265.0 L383.5,265.7 L384.0,266.3 L384.4,266.9 L384.9,267.5 L385.4,268.1 L385.9,268.7 L386.3,269.3 L386.8,269.8 L387.3,270.4 L387.8,270.9 L388.3,271.4 L388.7,271.9 L389.2,272.3 L389.7,272.7 L390.2,273.1 L390.6,273.5 L391.1,273.9 L391.6,274.2 L392.1,274.5 L392.5,274.8 L393.0,275.1 L393.5,275.3 L394.0,275.6 L394.5,275.8 L394.9,276.1 L395.4,276.3 L395.9,276.5 L396.4,276.8 L396.8,277.0 L397.3,277.2 L397.8,277.4 L398.3,277.5 L398.7,277.7 L399.2,277.9 L399.7,278.0 L400.2,278.2 L400.7,278.3 L401.1,278.4 L401.6,278.6 L402.1,278.7 L402.6,278.8 L403.0,279.0 L403.5,279.1 L404.0,279.2 L404.5,279.3 L404.9,279.4 L405.4,279.5 L405.9,279.6 L406.4,279.8 L406.9,279.8 L407.3,279.9 L407.8,280.0 L408.3,280.1 L408.8,280.2 L409.2,280.3 L409.7,280.4 L410.2,280.4 L410.7,280.5 L411.1,280.5 L411.6,280.6 L412.1,280.6 L412.6,280.7 L413.0,280.7 L413.5,280.8 L414.0,280.8 L414.5,280.8 L415.0,280.9 L415.4,280.9 L415.9,281.0 L416.4,281.0 L416.9,281.0 L417.3,281.1 L417.8,281.1 L418.3,281.1 L418.8,281.1 L419.2,281.2 L419.7,281.2 L420.2,281.2 L420.7,281.3 L421.2,281.3 L421.6,281.3 L422.1,281.3 L422.6,281.3 L423.1,281.3 L423.5,281.4 L424.0,281.4 L424.5,281.4 L425.0,281.4 L425.4,281.4 L425.9,281.4 L426.4,281.4" fill="none" stroke="#1c1c1c" stroke-width="1.8" stroke-dasharray="7 2.2"/>
<path d="M268.1,161.7 V281.4 H447.2" fill="none" stroke="#000" stroke-width="2"/>
<line x1="265.1" y1="281.4" x2="268.1" y2="281.4" stroke="#000" stroke-width="2"/>
<text transform="translate(263.8,284.5) scale(0.88,1)" text-anchor="end" font-size="8.70">0</text>
<line x1="265.1" y1="257.7" x2="268.1" y2="257.7" stroke="#000" stroke-width="2"/>
<text transform="translate(263.8,260.8) scale(0.88,1)" text-anchor="end" font-size="8.70">2</text>
<line x1="265.1" y1="233.9" x2="268.1" y2="233.9" stroke="#000" stroke-width="2"/>
<text transform="translate(263.8,237.0) scale(0.88,1)" text-anchor="end" font-size="8.70">4</text>
<line x1="265.1" y1="210.2" x2="268.1" y2="210.2" stroke="#000" stroke-width="2"/>
<text transform="translate(263.8,213.3) scale(0.88,1)" text-anchor="end" font-size="8.70">6</text>
<line x1="265.1" y1="186.4" x2="268.1" y2="186.4" stroke="#000" stroke-width="2"/>
<text transform="translate(263.8,189.5) scale(0.88,1)" text-anchor="end" font-size="8.70">8</text>
<line x1="265.1" y1="162.7" x2="268.1" y2="162.7" stroke="#000" stroke-width="2"/>
<text transform="translate(263.8,165.8) scale(0.88,1)" text-anchor="end" font-size="8.70">10</text>
<line x1="287.8" y1="281.4" x2="287.8" y2="284.9" stroke="#000" stroke-width="2"/>
<text x="287.8" y="294.1" text-anchor="middle" font-size="8.40">-0.2</text>
<line x1="327.4" y1="281.4" x2="327.4" y2="284.9" stroke="#000" stroke-width="2"/>
<text x="327.4" y="294.1" text-anchor="middle" font-size="8.40">0.0</text>
<line x1="367.0" y1="281.4" x2="367.0" y2="284.9" stroke="#000" stroke-width="2"/>
<text x="367.0" y="294.1" text-anchor="middle" font-size="8.40">0.2</text>
<line x1="406.6" y1="281.4" x2="406.6" y2="284.9" stroke="#000" stroke-width="2"/>
<text x="406.6" y="294.1" text-anchor="middle" font-size="8.40">0.4</text>
<line x1="446.2" y1="281.4" x2="446.2" y2="284.9" stroke="#000" stroke-width="2"/>
<text x="446.2" y="294.1" text-anchor="middle" font-size="8.40">0.6</text>
<text x="357.1" y="306.0" text-anchor="middle" font-size="8.45">fractional expansion</text>
<text transform="translate(248.2,221.6) rotate(-90)" text-anchor="middle" font-size="8.50">probability density function</text>
<text x="282.1" y="169.2" font-size="11.00" font-weight="bold">e)</text>
<text x="355.0" y="171.3" font-size="10.50">M5</text>
<text x="394.3" y="197.9" font-size="10.85">R<tspan font-size="7.80" dy="-4.7">2</tspan><tspan dy="4.7"> = 0.9737</tspan></text>
<rect x="397.8" y="210.0" width="52.5" height="29.0" fill="none" stroke="#000" stroke-width="1.3"/>
<text x="399.5" y="221.6" font-size="10.80">CD = 0.23</text>
<text x="399.5" y="233.9" font-size="10.80">HD = 1.39</text>
<path d="M511.6,277.1 L513.7,280.5 L515.8,278.5 L517.9,280.3 L520.0,278.8 L522.1,279.6 L524.2,277.3 L526.3,281.3 L528.4,278.6 L530.5,277.7 L532.6,278.3 L534.7,280.5 L536.8,275.0 L538.9,278.8 L541.0,275.3 L543.1,279.1 L545.2,270.2 L547.3,281.3 L549.4,273.8 L551.5,280.4 L553.6,268.4 L555.7,274.0 L557.8,269.6 L559.9,269.9 L562.0,258.0 L564.1,274.8 L566.2,263.6 L568.3,269.7 L570.4,258.6 L572.5,265.5 L574.6,259.6 L576.7,262.2 L578.8,252.7 L580.9,260.2 L583.0,250.8 L585.1,260.0 L587.2,252.8 L589.3,257.3 L591.4,241.5 L593.5,236.3 L595.6,229.7 L597.7,248.8 L599.8,224.2 L601.9,217.4 L604.0,220.1 L606.1,248.0 L608.2,230.4 L610.3,239.5 L612.4,238.8 L614.5,254.5 L616.6,245.1 L618.7,266.1 L620.8,260.4 L622.9,266.1 L625.0,263.5 L627.1,279.7 L629.2,271.7 L631.3,277.9 L633.4,274.9 L635.5,278.1 L637.6,275.3 L639.7,277.4 L641.8,277.5 L643.9,280.8 L646.0,277.4 L648.1,280.0 L650.2,275.8 L652.3,280.9 L654.4,279.0 L656.5,280.6 L658.6,280.0 L660.7,280.1 L662.8,280.6 L664.9,280.4 L667.0,277.5 L669.1,279.6 L671.2,280.0 L673.3,280.9 L675.4,280.6" fill="none" stroke="#9a9a9a" stroke-width="1.7" stroke-linejoin="miter"/>
<path d="M509.6,281.3 L510.2,281.3 L510.7,281.3 L511.3,281.2 L511.9,281.2 L512.4,281.2 L513.0,281.2 L513.6,281.1 L514.1,281.1 L514.7,281.1 L515.2,281.0 L515.8,281.0 L516.4,281.0 L516.9,280.9 L517.5,280.9 L518.0,280.9 L518.6,280.8 L519.2,280.8 L519.7,280.7 L520.3,280.7 L520.9,280.6 L521.4,280.6 L522.0,280.5 L522.5,280.4 L523.1,280.4 L523.7,280.3 L524.2,280.3 L524.8,280.2 L525.3,280.1 L525.9,280.0 L526.5,280.0 L527.0,279.9 L527.6,279.8 L528.2,279.7 L528.7,279.7 L529.3,279.6 L529.8,279.5 L530.4,279.4 L531.0,279.3 L531.5,279.2 L532.1,279.1 L532.6,279.0 L533.2,278.8 L533.8,278.7 L534.3,278.6 L534.9,278.4 L535.5,278.3 L536.0,278.2 L536.6,278.0 L537.1,277.9 L537.7,277.7 L538.3,277.5 L538.8,277.4 L539.4,277.2 L539.9,277.1 L540.5,276.9 L541.1,276.7 L541.6,276.6 L542.2,276.4 L542.8,276.2 L543.3,276.0 L543.9,275.9 L544.4,275.7 L545.0,275.5 L545.6,275.3 L546.1,275.1 L546.7,274.9 L547.2,274.7 L547.8,274.5 L548.4,274.2 L548.9,274.0 L549.5,273.8 L550.0,273.6 L550.6,273.3 L551.2,273.1 L551.7,272.9 L552.3,272.6 L552.9,272.4 L553.4,272.2 L554.0,271.9 L554.5,271.6 L555.1,271.4 L555.7,271.1 L556.2,270.8 L556.8,270.5 L557.3,270.2 L557.9,269.9 L558.5,269.6 L559.0,269.3 L559.6,269.0 L560.2,268.7 L560.7,268.4 L561.3,268.1 L561.8,267.9 L562.4,267.6 L563.0,267.3 L563.5,267.1 L564.1,266.8 L564.6,266.5 L565.2,266.3 L565.8,266.0 L566.3,265.8 L566.9,265.5 L567.5,265.3 L568.0,265.0 L568.6,264.8 L569.1,264.5 L569.7,264.3 L570.3,264.0 L570.8,263.8 L571.4,263.5 L571.9,263.3 L572.5,263.0 L573.1,262.8 L573.6,262.5 L574.2,262.3 L574.8,262.0 L575.3,261.8 L575.9,261.6 L576.4,261.3 L577.0,261.1 L577.6,260.8 L578.1,260.6 L578.7,260.3 L579.2,260.1 L579.8,259.9 L580.4,259.6 L580.9,259.4 L581.5,259.2 L582.1,258.9 L582.6,258.7 L583.2,258.4 L583.7,258.1 L584.3,257.8 L584.9,257.4 L585.4,256.9 L586.0,256.4 L586.5,255.8 L587.1,255.1 L587.7,254.4 L588.2,253.6 L588.8,252.8 L589.4,251.9 L589.9,250.8 L590.5,249.7 L591.0,248.4 L591.6,247.1 L592.2,245.7 L592.7,244.3 L593.3,242.9 L593.8,241.5 L594.4,240.2 L595.0,238.9 L595.5,237.6 L596.1,236.2 L596.7,234.8 L597.2,233.5 L597.8,232.2 L598.3,231.1 L598.9,230.1 L599.5,229.3 L600.0,228.4 L600.6,227.6 L601.1,226.8 L601.7,226.1 L602.3,225.6 L602.8,225.2 L603.4,225.0 L603.9,225.0 L604.5,225.1 L605.1,225.4 L605.6,225.7 L606.2,226.2 L606.8,226.7 L607.3,227.2 L607.9,228.0 L608.4,229.1 L609.0,230.4 L609.6,231.9 L610.1,233.5 L610.7,235.1 L611.2,236.7 L611.8,238.2 L612.4,239.7 L612.9,241.2 L613.5,242.8 L614.1,244.4 L614.6,246.0 L615.2,247.6 L615.7,249.2 L616.3,250.7 L616.9,252.2 L617.4,253.7 L618.0,255.1 L618.5,256.6 L619.1,258.0 L619.7,259.3 L620.2,260.6 L620.8,261.8 L621.4,262.9 L621.9,264.1 L622.5,265.2 L623.0,266.3 L623.6,267.3 L624.2,268.2 L624.7,269.0 L625.3,269.7 L625.8,270.4 L626.4,271.0 L627.0,271.6 L627.5,272.1 L628.1,272.7 L628.7,273.2 L629.2,273.6 L629.8,274.1 L630.3,274.5 L630.9,274.9 L631.5,275.3 L632.0,275.6 L632.6,275.9 L633.1,276.2 L633.7,276.5 L634.3,276.8 L634.8,277.1 L635.4,277.3 L636.0,277.6 L636.5,277.8 L637.1,278.1 L637.6,278.3 L638.2,278.5 L638.8,278.7 L639.3,278.9 L639.9,279.1 L640.4,279.2 L641.0,279.3 L641.6,279.5 L642.1,279.6 L642.7,279.6 L643.3,279.7 L643.8,279.8 L644.4,279.9 L644.9,280.0 L645.5,280.1 L646.1,280.1 L646.6,280.2 L647.2,280.3 L647.7,280.3 L648.3,280.4 L648.9,280.5 L649.4,280.5 L650.0,280.6 L650.6,280.6 L651.1,280.7 L651.7,280.7 L652.2,280.8 L652.8,280.8 L653.4,280.9 L653.9,280.9 L654.5,280.9 L655.0,281.0 L655.6,281.0 L656.2,281.0 L656.7,281.0 L657.3,281.1 L657.8,281.1 L658.4,281.1 L659.0,281.1 L659.5,281.1 L660.1,281.1 L660.7,281.1 L661.2,281.1 L661.8,281.1 L662.3,281.2 L662.9,281.2 L663.5,281.2 L664.0,281.2 L664.6,281.2 L665.1,281.2 L665.7,281.2 L666.3,281.2 L666.8,281.2 L667.4,281.2 L668.0,281.2 L668.5,281.2 L669.1,281.3 L669.6,281.3 L670.2,281.3 L670.8,281.3 L671.3,281.3 L671.9,281.3 L672.4,281.3 L673.0,281.3 L673.6,281.3 L674.1,281.3 L674.7,281.3 L675.3,281.3 L675.8,281.3 L676.4,281.3 L676.9,281.3 L677.5,281.3" fill="none" stroke="#1c1c1c" stroke-width="1.8" stroke-dasharray="7 2.2"/>
<path d="M500.1,161.9 V281.3 H678.5" fill="none" stroke="#000" stroke-width="2"/>
<line x1="497.1" y1="281.3" x2="500.1" y2="281.3" stroke="#000" stroke-width="2"/>
<text transform="translate(495.8,284.4) scale(0.88,1)" text-anchor="end" font-size="8.70">0</text>
<line x1="497.1" y1="257.6" x2="500.1" y2="257.6" stroke="#000" stroke-width="2"/>
<text transform="translate(495.8,260.7) scale(0.88,1)" text-anchor="end" font-size="8.70">2</text>
<line x1="497.1" y1="233.9" x2="500.1" y2="233.9" stroke="#000" stroke-width="2"/>
<text transform="translate(495.8,237.0) scale(0.88,1)" text-anchor="end" font-size="8.70">4</text>
<line x1="497.1" y1="210.3" x2="500.1" y2="210.3" stroke="#000" stroke-width="2"/>
<text transform="translate(495.8,213.4) scale(0.88,1)" text-anchor="end" font-size="8.70">6</text>
<line x1="497.1" y1="186.6" x2="500.1" y2="186.6" stroke="#000" stroke-width="2"/>
<text transform="translate(495.8,189.7) scale(0.88,1)" text-anchor="end" font-size="8.70">8</text>
<line x1="497.1" y1="162.9" x2="500.1" y2="162.9" stroke="#000" stroke-width="2"/>
<text transform="translate(495.8,166.0) scale(0.88,1)" text-anchor="end" font-size="8.70">10</text>
<line x1="519.5" y1="281.3" x2="519.5" y2="284.8" stroke="#000" stroke-width="2"/>
<text x="519.5" y="294.0" text-anchor="middle" font-size="8.40">-0.2</text>
<line x1="559.0" y1="281.3" x2="559.0" y2="284.8" stroke="#000" stroke-width="2"/>
<text x="559.0" y="294.0" text-anchor="middle" font-size="8.40">0.0</text>
<line x1="598.5" y1="281.3" x2="598.5" y2="284.8" stroke="#000" stroke-width="2"/>
<text x="598.5" y="294.0" text-anchor="middle" font-size="8.40">0.2</text>
<line x1="638.0" y1="281.3" x2="638.0" y2="284.8" stroke="#000" stroke-width="2"/>
<text x="638.0" y="294.0" text-anchor="middle" font-size="8.40">0.4</text>
<line x1="677.5" y1="281.3" x2="677.5" y2="284.8" stroke="#000" stroke-width="2"/>
<text x="677.5" y="294.0" text-anchor="middle" font-size="8.40">0.6</text>
<text x="588.8" y="305.9" text-anchor="middle" font-size="8.45">fractional expansion</text>
<text transform="translate(480.2,221.6) rotate(-90)" text-anchor="middle" font-size="8.50">probability density function</text>
<text x="516.0" y="169.1" font-size="11.00" font-weight="bold">f)</text>
<text x="585.3" y="171.3" font-size="10.50">M6</text>
<text x="623.3" y="196.7" font-size="10.85">R<tspan font-size="7.80" dy="-4.7">2</tspan><tspan dy="4.7"> = 0.9567</tspan></text>
<rect x="626.8" y="210.9" width="52.4" height="28.9" fill="none" stroke="#000" stroke-width="1.3"/>
<text x="628.5" y="222.5" font-size="10.80">CD = 0.34</text>
<text x="628.5" y="234.8" font-size="10.80">HD = 1.78</text>
<path d="M70.9,438.8 L72.5,439.2 L74.1,438.7 L75.7,439.6 L77.3,438.8 L78.9,439.2 L80.5,437.9 L82.1,438.6 L83.7,437.1 L85.3,438.8 L86.9,437.8 L88.5,439.2 L90.1,437.1 L91.7,437.6 L93.3,435.0 L94.9,436.2 L96.5,421.7 L98.1,427.8 L99.7,407.8 L101.3,427.7 L102.9,402.2 L104.5,412.9 L106.1,403.9 L107.7,414.1 L109.3,411.7 L110.9,416.1 L112.5,400.1 L114.1,419.7 L115.7,414.0 L117.3,413.8 L118.9,396.8 L120.5,412.5 L122.1,395.4 L123.7,408.5 L125.3,382.8 L126.9,403.9 L128.5,389.7 L130.1,401.7 L131.7,369.8 L133.3,386.6 L134.9,382.9 L136.5,375.7 L138.1,371.4 L139.7,387.9 L141.3,378.4 L142.9,411.0 L144.5,385.2 L146.1,400.7 L147.7,395.5 L149.3,421.6 L150.9,405.1 L152.5,423.5 L154.1,418.2 L155.7,425.7 L157.3,424.1 L158.9,432.2 L160.5,430.1 L162.1,434.8 L163.7,426.3 L165.3,437.3 L166.9,435.3 L168.5,437.3 L170.1,435.6 L171.7,437.1 L173.3,437.4 L174.9,439.4 L176.5,438.1 L178.1,439.6 L179.7,437.3 L181.3,437.8 L182.9,439.0 L184.5,438.5 L186.1,437.2 L187.7,439.0 L189.3,438.5" fill="none" stroke="#9a9a9a" stroke-width="1.7" stroke-linejoin="miter"/>
<path d="M84.7,439.6 L85.0,439.6 L85.4,439.6 L85.7,439.6 L86.0,439.6 L86.3,439.6 L86.7,439.6 L87.0,439.5 L87.3,439.5 L87.6,439.5 L88.0,439.5 L88.3,439.4 L88.6,439.4 L88.9,439.4 L89.3,439.3 L89.6,439.2 L89.9,439.0 L90.2,438.8 L90.6,438.5 L90.9,438.2 L91.2,437.8 L91.5,437.4 L91.9,437.0 L92.2,436.6 L92.5,436.1 L92.8,435.7 L93.2,435.2 L93.5,434.8 L93.8,434.2 L94.1,433.7 L94.5,433.1 L94.8,432.5 L95.1,431.8 L95.4,431.1 L95.8,430.4 L96.1,429.6 L96.4,428.9 L96.7,428.1 L97.1,427.3 L97.4,426.5 L97.7,425.7 L98.0,424.9 L98.3,424.0 L98.7,423.0 L99.0,422.0 L99.3,421.0 L99.6,419.9 L100.0,418.9 L100.3,418.0 L100.6,417.1 L100.9,416.4 L101.3,415.7 L101.6,415.1 L101.9,414.5 L102.2,413.8 L102.6,413.3 L102.9,412.7 L103.2,412.2 L103.5,411.8 L103.9,411.4 L104.2,411.1 L104.5,411.0 L104.8,411.0 L105.2,411.0 L105.5,411.1 L105.8,411.2 L106.1,411.4 L106.5,411.6 L106.8,411.8 L107.1,412.0 L107.4,412.3 L107.8,412.5 L108.1,412.7 L108.4,412.9 L108.7,413.1 L109.1,413.3 L109.4,413.5 L109.7,413.7 L110.0,413.9 L110.4,414.1 L110.7,414.3 L111.0,414.5 L111.3,414.7 L111.7,414.9 L112.0,415.1 L112.3,415.2 L112.6,415.3 L112.9,415.4 L113.3,415.5 L113.6,415.5 L113.9,415.4 L114.2,415.3 L114.6,415.2 L114.9,415.0 L115.2,414.8 L115.5,414.5 L115.9,414.3 L116.2,414.0 L116.5,413.7 L116.8,413.4 L117.2,413.0 L117.5,412.7 L117.8,412.4 L118.1,412.0 L118.5,411.5 L118.8,411.0 L119.1,410.4 L119.4,409.8 L119.8,409.1 L120.1,408.4 L120.4,407.7 L120.7,406.9 L121.1,406.2 L121.4,405.4 L121.7,404.7 L122.0,404.0 L122.4,403.3 L122.7,402.5 L123.0,401.8 L123.3,401.0 L123.7,400.2 L124.0,399.4 L124.3,398.5 L124.6,397.7 L125.0,396.9 L125.3,396.1 L125.6,395.3 L125.9,394.5 L126.3,393.8 L126.6,393.1 L126.9,392.5 L127.2,391.9 L127.6,391.4 L127.9,390.8 L128.2,390.3 L128.5,389.8 L128.8,389.3 L129.2,388.9 L129.5,388.4 L129.8,388.0 L130.1,387.5 L130.5,387.1 L130.8,386.8 L131.1,386.4 L131.4,386.1 L131.8,385.8 L132.1,385.6 L132.4,385.4 L132.7,385.3 L133.1,385.1 L133.4,385.0 L133.7,384.9 L134.0,384.8 L134.4,384.7 L134.7,384.6 L135.0,384.5 L135.3,384.4 L135.7,384.4 L136.0,384.4 L136.3,384.4 L136.6,384.4 L137.0,384.5 L137.3,384.7 L137.6,384.9 L137.9,385.1 L138.3,385.4 L138.6,385.7 L138.9,386.0 L139.2,386.4 L139.6,386.7 L139.9,387.1 L140.2,387.5 L140.5,387.9 L140.9,388.3 L141.2,388.8 L141.5,389.4 L141.8,390.0 L142.2,390.7 L142.5,391.4 L142.8,392.2 L143.1,393.0 L143.5,393.7 L143.8,394.5 L144.1,395.3 L144.4,396.0 L144.7,396.7 L145.1,397.4 L145.4,398.1 L145.7,398.8 L146.0,399.4 L146.4,400.1 L146.7,400.8 L147.0,401.4 L147.3,402.1 L147.7,402.8 L148.0,403.5 L148.3,404.2 L148.6,404.9 L149.0,405.7 L149.3,406.4 L149.6,407.2 L149.9,408.0 L150.3,408.8 L150.6,409.7 L150.9,410.6 L151.2,411.4 L151.6,412.3 L151.9,413.2 L152.2,414.1 L152.5,414.9 L152.9,415.8 L153.2,416.6 L153.5,417.3 L153.8,418.1 L154.2,418.8 L154.5,419.6 L154.8,420.3 L155.1,421.0 L155.5,421.8 L155.8,422.5 L156.1,423.2 L156.4,423.9 L156.8,424.6 L157.1,425.2 L157.4,425.8 L157.7,426.4 L158.1,427.0 L158.4,427.5 L158.7,428.0 L159.0,428.5 L159.4,428.9 L159.7,429.4 L160.0,429.8 L160.3,430.2 L160.6,430.7 L161.0,431.0 L161.3,431.4 L161.6,431.8 L161.9,432.1 L162.3,432.5 L162.6,432.8 L162.9,433.1 L163.2,433.4 L163.6,433.7 L163.9,434.0 L164.2,434.2 L164.5,434.5 L164.9,434.7 L165.2,435.0 L165.5,435.2 L165.8,435.4 L166.2,435.7 L166.5,435.9 L166.8,436.1 L167.1,436.3 L167.5,436.5 L167.8,436.7 L168.1,436.9 L168.4,437.0 L168.8,437.2 L169.1,437.4 L169.4,437.5 L169.7,437.7 L170.1,437.8 L170.4,437.9 L170.7,438.1 L171.0,438.2 L171.4,438.3 L171.7,438.4 L172.0,438.5 L172.3,438.6 L172.7,438.7 L173.0,438.8 L173.3,438.9 L173.6,438.9 L174.0,439.0 L174.3,439.1 L174.6,439.1 L174.9,439.2 L175.3,439.3 L175.6,439.3 L175.9,439.3 L176.2,439.4 L176.5,439.4 L176.9,439.4 L177.2,439.4 L177.5,439.5 L177.8,439.5 L178.2,439.5 L178.5,439.5 L178.8,439.5 L179.1,439.5 L179.5,439.6 L179.8,439.6 L180.1,439.6 L180.4,439.6 L180.8,439.6 L181.1,439.6 L181.4,439.6 L181.7,439.6" fill="none" stroke="#1c1c1c" stroke-width="1.8" stroke-dasharray="7 2.2"/>
<path d="M37.5,320.3 V439.6 H216.4" fill="none" stroke="#000" stroke-width="2"/>
<line x1="34.5" y1="439.6" x2="37.5" y2="439.6" stroke="#000" stroke-width="2"/>
<text transform="translate(33.2,442.7) scale(0.88,1)" text-anchor="end" font-size="8.70">0</text>
<line x1="34.5" y1="415.9" x2="37.5" y2="415.9" stroke="#000" stroke-width="2"/>
<text transform="translate(33.2,419.0) scale(0.88,1)" text-anchor="end" font-size="8.70">2</text>
<line x1="34.5" y1="392.3" x2="37.5" y2="392.3" stroke="#000" stroke-width="2"/>
<text transform="translate(33.2,395.4) scale(0.88,1)" text-anchor="end" font-size="8.70">4</text>
<line x1="34.5" y1="368.6" x2="37.5" y2="368.6" stroke="#000" stroke-width="2"/>
<text transform="translate(33.2,371.7) scale(0.88,1)" text-anchor="end" font-size="8.70">6</text>
<line x1="34.5" y1="345.0" x2="37.5" y2="345.0" stroke="#000" stroke-width="2"/>
<text transform="translate(33.2,348.1) scale(0.88,1)" text-anchor="end" font-size="8.70">8</text>
<line x1="34.5" y1="321.3" x2="37.5" y2="321.3" stroke="#000" stroke-width="2"/>
<text transform="translate(33.2,324.4) scale(0.88,1)" text-anchor="end" font-size="8.70">10</text>
<line x1="57.0" y1="439.6" x2="57.0" y2="443.1" stroke="#000" stroke-width="2"/>
<text x="57.0" y="452.3" text-anchor="middle" font-size="8.40">-0.2</text>
<line x1="96.6" y1="439.6" x2="96.6" y2="443.1" stroke="#000" stroke-width="2"/>
<text x="96.6" y="452.3" text-anchor="middle" font-size="8.40">0.0</text>
<line x1="136.2" y1="439.6" x2="136.2" y2="443.1" stroke="#000" stroke-width="2"/>
<text x="136.2" y="452.3" text-anchor="middle" font-size="8.40">0.2</text>
<line x1="175.8" y1="439.6" x2="175.8" y2="443.1" stroke="#000" stroke-width="2"/>
<text x="175.8" y="452.3" text-anchor="middle" font-size="8.40">0.4</text>
<line x1="215.4" y1="439.6" x2="215.4" y2="443.1" stroke="#000" stroke-width="2"/>
<text x="215.4" y="452.3" text-anchor="middle" font-size="8.40">0.6</text>
<text x="126.4" y="464.2" text-anchor="middle" font-size="8.45">fractional expansion</text>
<text transform="translate(21.5,379.9) rotate(-90)" text-anchor="middle" font-size="8.50">probability density function</text>
<text x="47.8" y="327.1" font-size="11.00" font-weight="bold">g)</text>
<text x="114.0" y="328.7" font-size="10.50">M7</text>
<text x="162.3" y="355.9" font-size="10.85">R<tspan font-size="7.80" dy="-4.7">2</tspan><tspan dy="4.7"> = 0.9213</tspan></text>
<rect x="165.1" y="369.1" width="52.4" height="28.6" fill="none" stroke="#000" stroke-width="1.3"/>
<text x="166.8" y="380.7" font-size="10.80">CD = 0.81</text>
<text x="166.8" y="393.0" font-size="10.80">HD = 1.55</text>
<path d="M271.3,440.0 L273.1,440.4 L274.9,439.9 L276.7,439.7 L278.5,440.1 L280.3,440.0 L282.1,440.2 L283.9,439.9 L285.7,439.8 L287.5,440.3 L289.3,439.6 L291.1,440.2 L292.9,439.6 L294.7,439.9 L296.5,440.0 L298.3,439.6 L300.1,439.8 L301.9,440.1 L303.7,439.3 L305.5,439.2 L307.3,439.1 L309.1,439.2 L310.9,438.3 L312.7,438.8 L314.5,438.5 L316.3,438.3 L318.1,437.9 L319.9,438.2 L321.7,430.8 L323.5,423.7 L325.3,419.6 L327.1,417.9 L328.9,421.4 L330.7,421.3 L332.5,421.4 L334.3,425.2 L336.1,428.2 L337.9,426.9 L339.7,428.6 L341.5,425.1 L343.3,427.3 L345.1,426.7 L346.9,423.4 L348.7,427.9 L350.5,424.4 L352.3,422.5 L354.1,420.0 L355.9,419.2 L357.7,411.1 L359.5,411.1 L361.3,404.2 L363.1,402.7 L364.9,394.0 L366.7,396.6 L368.5,380.9 L370.3,381.7 L372.1,376.7 L373.9,386.0 L375.7,369.5 L377.5,378.0 L379.3,380.6 L381.1,388.9 L382.9,392.9 L384.7,403.9 L386.5,405.8 L388.3,416.7 L390.1,420.6 L391.9,426.3 L393.7,428.1 L395.5,432.3 L397.3,432.9 L399.1,436.1 L400.9,436.7 L402.7,438.1 L404.5,438.3 L406.3,439.1 L408.1,438.6 L409.9,440.0 L411.7,438.8 L413.5,440.7 L415.3,439.1 L417.1,440.5 L418.9,440.4 L420.7,439.1 L422.5,438.6 L424.3,439.9 L426.1,440.7 L427.9,438.9 L429.7,440.2 L431.5,440.1 L433.3,439.1 L435.1,440.7 L436.9,440.6 L438.7,439.1 L440.5,439.9 L442.3,439.7 L444.1,439.9 L445.9,440.4 L447.7,439.4" fill="none" stroke="#9a9a9a" stroke-width="2.0" stroke-linejoin="miter"/>
<path d="M287.5,441.0 L287.9,441.0 L288.4,441.0 L288.8,441.0 L289.3,441.0 L289.7,441.0 L290.1,441.0 L290.6,440.9 L291.0,440.9 L291.5,440.9 L291.9,440.9 L292.3,440.8 L292.8,440.8 L293.2,440.8 L293.6,440.8 L294.1,440.7 L294.5,440.7 L295.0,440.7 L295.4,440.6 L295.8,440.6 L296.3,440.6 L296.7,440.5 L297.2,440.4 L297.6,440.4 L298.0,440.3 L298.5,440.2 L298.9,440.1 L299.4,440.0 L299.8,439.9 L300.2,439.8 L300.7,439.7 L301.1,439.5 L301.6,439.4 L302.0,439.3 L302.4,439.2 L302.9,439.1 L303.3,438.9 L303.7,438.8 L304.2,438.7 L304.6,438.6 L305.1,438.5 L305.5,438.4 L305.9,438.3 L306.4,438.1 L306.8,438.0 L307.3,437.9 L307.7,437.8 L308.1,437.6 L308.6,437.5 L309.0,437.4 L309.5,437.2 L309.9,437.1 L310.3,437.0 L310.8,436.8 L311.2,436.7 L311.7,436.5 L312.1,436.4 L312.5,436.2 L313.0,436.1 L313.4,435.9 L313.8,435.8 L314.3,435.6 L314.7,435.4 L315.2,435.3 L315.6,435.1 L316.0,434.9 L316.5,434.7 L316.9,434.6 L317.4,434.4 L317.8,434.2 L318.2,434.0 L318.7,433.8 L319.1,433.7 L319.6,433.5 L320.0,433.3 L320.4,433.1 L320.9,433.0 L321.3,432.8 L321.8,432.6 L322.2,432.4 L322.6,432.3 L323.1,432.1 L323.5,431.9 L323.9,431.7 L324.4,431.6 L324.8,431.4 L325.3,431.2 L325.7,431.0 L326.1,430.8 L326.6,430.7 L327.0,430.5 L327.5,430.3 L327.9,430.1 L328.3,430.0 L328.8,429.8 L329.2,429.6 L329.7,429.4 L330.1,429.3 L330.5,429.1 L331.0,428.9 L331.4,428.7 L331.9,428.6 L332.3,428.4 L332.7,428.2 L333.2,428.1 L333.6,427.9 L334.0,427.7 L334.5,427.5 L334.9,427.4 L335.4,427.2 L335.8,427.0 L336.2,426.8 L336.7,426.7 L337.1,426.5 L337.6,426.3 L338.0,426.2 L338.4,426.0 L338.9,425.8 L339.3,425.6 L339.8,425.5 L340.2,425.3 L340.6,425.1 L341.1,425.0 L341.5,424.8 L342.0,424.6 L342.4,424.5 L342.8,424.3 L343.3,424.1 L343.7,424.0 L344.1,423.8 L344.6,423.6 L345.0,423.5 L345.5,423.3 L345.9,423.1 L346.3,422.9 L346.8,422.7 L347.2,422.5 L347.7,422.3 L348.1,422.1 L348.5,421.9 L349.0,421.7 L349.4,421.5 L349.9,421.3 L350.3,421.0 L350.7,420.8 L351.2,420.6 L351.6,420.3 L352.1,420.0 L352.5,419.8 L352.9,419.5 L353.4,419.1 L353.8,418.8 L354.2,418.4 L354.7,418.0 L355.1,417.5 L355.6,416.9 L356.0,416.3 L356.4,415.7 L356.9,415.1 L357.3,414.4 L357.8,413.7 L358.2,413.0 L358.6,412.2 L359.1,411.5 L359.5,410.6 L360.0,409.8 L360.4,408.9 L360.8,407.9 L361.3,406.9 L361.7,405.9 L362.2,404.9 L362.6,403.9 L363.0,402.8 L363.5,401.7 L363.9,400.5 L364.3,399.3 L364.8,398.1 L365.2,396.8 L365.7,395.5 L366.1,394.3 L366.5,393.0 L367.0,391.8 L367.4,390.5 L367.9,389.2 L368.3,387.8 L368.7,386.4 L369.2,384.9 L369.6,383.6 L370.1,382.3 L370.5,381.2 L370.9,380.3 L371.4,379.5 L371.8,379.0 L372.3,378.4 L372.7,377.9 L373.1,377.5 L373.6,377.1 L374.0,376.7 L374.4,376.4 L374.9,376.2 L375.3,376.1 L375.8,376.1 L376.2,376.3 L376.6,376.6 L377.1,377.1 L377.5,377.6 L378.0,378.3 L378.4,379.1 L378.8,379.9 L379.3,380.7 L379.7,381.7 L380.2,383.0 L380.6,384.7 L381.0,386.7 L381.5,388.7 L381.9,390.8 L382.4,392.9 L382.8,394.8 L383.2,396.6 L383.7,398.4 L384.1,400.2 L384.5,402.1 L385.0,403.9 L385.4,405.7 L385.9,407.4 L386.3,409.1 L386.7,410.7 L387.2,412.3 L387.6,413.7 L388.1,415.2 L388.5,416.6 L388.9,417.9 L389.4,419.3 L389.8,420.5 L390.3,421.7 L390.7,422.9 L391.1,423.9 L391.6,424.9 L392.0,425.8 L392.5,426.7 L392.9,427.6 L393.3,428.4 L393.8,429.2 L394.2,430.0 L394.6,430.7 L395.1,431.4 L395.5,432.0 L396.0,432.6 L396.4,433.1 L396.8,433.6 L397.3,434.0 L397.7,434.5 L398.2,434.9 L398.6,435.2 L399.0,435.6 L399.5,436.0 L399.9,436.3 L400.4,436.6 L400.8,436.9 L401.2,437.2 L401.7,437.5 L402.1,437.7 L402.6,437.9 L403.0,438.1 L403.4,438.3 L403.9,438.5 L404.3,438.7 L404.7,438.9 L405.2,439.0 L405.6,439.2 L406.1,439.3 L406.5,439.4 L406.9,439.5 L407.4,439.7 L407.8,439.8 L408.3,439.9 L408.7,440.0 L409.1,440.0 L409.6,440.1 L410.0,440.2 L410.5,440.3 L410.9,440.3 L411.3,440.4 L411.8,440.4 L412.2,440.5 L412.7,440.5 L413.1,440.6 L413.5,440.7 L414.0,440.7 L414.4,440.8 L414.8,440.8 L415.3,440.8 L415.7,440.9 L416.2,440.9 L416.6,440.9 L417.0,441.0 L417.5,441.0 L417.9,441.0 L418.4,441.0 L418.8,441.0" fill="none" stroke="#1c1c1c" stroke-width="1.8" stroke-dasharray="7 2.2"/>
<path d="M267.6,321.8 V441.0 H450.1" fill="none" stroke="#000" stroke-width="2"/>
<line x1="264.6" y1="441.0" x2="267.6" y2="441.0" stroke="#000" stroke-width="2"/>
<text transform="translate(263.3,444.2) scale(0.88,1)" text-anchor="end" font-size="9.09">0</text>
<line x1="264.6" y1="417.4" x2="267.6" y2="417.4" stroke="#000" stroke-width="2"/>
<text transform="translate(263.3,420.6) scale(0.88,1)" text-anchor="end" font-size="9.09">2</text>
<line x1="264.6" y1="393.7" x2="267.6" y2="393.7" stroke="#000" stroke-width="2"/>
<text transform="translate(263.3,397.0) scale(0.88,1)" text-anchor="end" font-size="9.09">4</text>
<line x1="264.6" y1="370.1" x2="267.6" y2="370.1" stroke="#000" stroke-width="2"/>
<text transform="translate(263.3,373.3) scale(0.88,1)" text-anchor="end" font-size="9.09">6</text>
<line x1="264.6" y1="346.4" x2="267.6" y2="346.4" stroke="#000" stroke-width="2"/>
<text transform="translate(263.3,349.7) scale(0.88,1)" text-anchor="end" font-size="9.09">8</text>
<line x1="264.6" y1="322.8" x2="267.6" y2="322.8" stroke="#000" stroke-width="2"/>
<text transform="translate(263.3,326.0) scale(0.88,1)" text-anchor="end" font-size="9.09">10</text>
<line x1="287.5" y1="441.0" x2="287.5" y2="444.5" stroke="#000" stroke-width="2"/>
<text x="287.5" y="454.0" text-anchor="middle" font-size="8.78">-0.2</text>
<line x1="327.9" y1="441.0" x2="327.9" y2="444.5" stroke="#000" stroke-width="2"/>
<text x="327.9" y="454.0" text-anchor="middle" font-size="8.78">0.0</text>
<line x1="368.3" y1="441.0" x2="368.3" y2="444.5" stroke="#000" stroke-width="2"/>
<text x="368.3" y="454.0" text-anchor="middle" font-size="8.78">0.2</text>
<line x1="408.7" y1="441.0" x2="408.7" y2="444.5" stroke="#000" stroke-width="2"/>
<text x="408.7" y="454.0" text-anchor="middle" font-size="8.78">0.4</text>
<line x1="449.1" y1="441.0" x2="449.1" y2="444.5" stroke="#000" stroke-width="2"/>
<text x="449.1" y="454.0" text-anchor="middle" font-size="8.78">0.6</text>
<text x="358.4" y="466.7" text-anchor="middle" font-size="8.83">fractional expansion</text>
<text transform="translate(250.0,381.0) rotate(-90)" text-anchor="middle" font-size="8.88">probability density function</text>
<text x="281.1" y="330.2" font-size="11.49" font-weight="bold">h)</text>
<text x="353.0" y="329.0" font-size="10.97">M8</text>
<text x="397.4" y="355.9" font-size="11.3">R<tspan font-size="8.15" dy="-4.7">2</tspan><tspan dy="4.7"> = 0.9729</tspan></text>
<rect x="400.0" y="368.1" width="55.0" height="30.1" fill="none" stroke="#000" stroke-width="1.3"/>
<text x="401.7" y="380.2" font-size="11.29">CD = 0.48</text>
<text x="401.7" y="393.1" font-size="11.29">HD = 1.6</text>
<path d="M519.7,438.2 L521.0,439.7 L522.3,436.5 L523.6,438.6 L524.9,435.9 L526.2,438.9 L527.5,437.2 L528.8,437.3 L530.1,438.2 L531.4,439.6 L532.7,432.9 L534.0,439.6 L535.3,438.3 L536.6,437.9 L537.9,435.4 L539.2,438.5 L540.5,436.0 L541.8,438.9 L543.1,435.5 L544.4,438.4 L545.7,435.7 L547.0,436.9 L548.3,432.5 L549.6,439.7 L550.9,434.6 L552.2,435.3 L553.5,431.5 L554.8,436.6 L556.1,430.4 L557.4,435.7 L558.7,428.6 L560.0,434.3 L561.3,419.6 L562.6,427.0 L563.9,410.8 L565.2,419.0 L566.5,408.6 L567.8,407.0 L569.1,399.7 L570.4,401.1 L571.7,387.6 L573.0,405.8 L574.3,398.9 L575.6,408.7 L576.9,387.6 L578.2,405.4 L579.5,408.9 L580.8,422.7 L582.1,392.9 L583.4,409.8 L584.7,397.1 L586.0,405.3 L587.3,395.4 L588.6,408.6 L589.9,390.9 L591.2,390.0 L592.5,386.5 L593.8,406.9 L595.1,395.6 L596.4,403.7 L597.7,394.2 L599.0,387.6 L600.3,386.9 L601.6,420.3 L602.9,398.6 L604.2,405.1 L605.5,396.6 L606.8,409.9 L608.1,409.2 L609.4,415.9 L610.7,413.3 L612.0,419.5 L613.3,403.5 L614.6,423.5 L615.9,412.1 L617.2,422.8 L618.5,421.2 L619.8,433.5 L621.1,425.9 L622.4,432.3 L623.7,425.8 L625.0,437.0 L626.3,429.3 L627.6,434.9 L628.9,433.0 L630.2,439.7 L631.5,433.2 L632.8,435.3 L634.1,435.4 L635.4,438.1 L636.7,437.4 L638.0,437.6 L639.3,435.9 L640.6,437.9 L641.9,434.7 L643.2,439.3 L644.5,438.4 L645.8,439.6 L647.1,438.4 L648.4,439.7 L649.7,438.2 L651.0,438.7 L652.3,437.6 L653.6,436.7 L654.9,438.4 L656.2,438.7 L657.5,437.0 L658.8,438.7 L660.1,439.0 L661.4,439.3" fill="none" stroke="#9a9a9a" stroke-width="1.7" stroke-linejoin="miter"/>
<path d="M519.7,439.7 L520.1,439.7 L520.5,439.6 L521.0,439.6 L521.4,439.5 L521.8,439.5 L522.2,439.5 L522.7,439.4 L523.1,439.4 L523.5,439.3 L523.9,439.3 L524.4,439.3 L524.8,439.2 L525.2,439.2 L525.6,439.2 L526.1,439.1 L526.5,439.1 L526.9,439.0 L527.3,439.0 L527.8,439.0 L528.2,438.9 L528.6,438.9 L529.0,438.9 L529.4,438.8 L529.9,438.8 L530.3,438.8 L530.7,438.7 L531.1,438.7 L531.6,438.7 L532.0,438.6 L532.4,438.6 L532.8,438.6 L533.3,438.5 L533.7,438.5 L534.1,438.5 L534.5,438.5 L535.0,438.4 L535.4,438.4 L535.8,438.4 L536.2,438.4 L536.7,438.3 L537.1,438.3 L537.5,438.3 L537.9,438.3 L538.3,438.2 L538.8,438.2 L539.2,438.2 L539.6,438.1 L540.0,438.1 L540.5,438.0 L540.9,438.0 L541.3,437.9 L541.7,437.9 L542.2,437.8 L542.6,437.8 L543.0,437.7 L543.4,437.6 L543.9,437.6 L544.3,437.5 L544.7,437.3 L545.1,437.2 L545.6,437.1 L546.0,436.9 L546.4,436.8 L546.8,436.6 L547.2,436.5 L547.7,436.3 L548.1,436.1 L548.5,436.0 L548.9,435.8 L549.4,435.6 L549.8,435.4 L550.2,435.2 L550.6,435.0 L551.1,434.9 L551.5,434.7 L551.9,434.5 L552.3,434.3 L552.8,434.1 L553.2,433.9 L553.6,433.8 L554.0,433.6 L554.5,433.3 L554.9,433.1 L555.3,432.9 L555.7,432.7 L556.1,432.4 L556.6,432.1 L557.0,431.8 L557.4,431.5 L557.8,431.2 L558.3,430.9 L558.7,430.5 L559.1,430.0 L559.5,429.5 L560.0,428.9 L560.4,428.3 L560.8,427.6 L561.2,426.8 L561.7,426.0 L562.1,425.1 L562.5,424.2 L562.9,423.2 L563.4,421.8 L563.8,420.2 L564.2,418.5 L564.6,416.6 L565.0,414.7 L565.5,412.8 L565.9,411.0 L566.3,409.4 L566.7,407.8 L567.2,406.1 L567.6,404.5 L568.0,403.1 L568.4,401.8 L568.9,400.9 L569.3,400.1 L569.7,399.3 L570.1,398.6 L570.6,398.0 L571.0,397.7 L571.4,397.6 L571.8,397.7 L572.3,398.0 L572.7,398.4 L573.1,398.9 L573.5,399.4 L573.9,400.0 L574.4,400.5 L574.8,400.9 L575.2,401.2 L575.6,401.5 L576.1,401.7 L576.5,402.0 L576.9,402.3 L577.3,402.5 L577.8,402.7 L578.2,402.9 L578.6,403.0 L579.0,403.1 L579.5,403.1 L579.9,403.0 L580.3,402.9 L580.7,402.7 L581.2,402.5 L581.6,402.3 L582.0,402.0 L582.4,401.7 L582.8,401.4 L583.3,401.1 L583.7,400.8 L584.1,400.5 L584.5,400.2 L585.0,400.0 L585.4,399.7 L585.8,399.4 L586.2,399.2 L586.7,398.9 L587.1,398.6 L587.5,398.3 L587.9,398.1 L588.4,397.8 L588.8,397.6 L589.2,397.4 L589.6,397.3 L590.1,397.1 L590.5,397.0 L590.9,396.8 L591.3,396.7 L591.7,396.5 L592.2,396.4 L592.6,396.3 L593.0,396.2 L593.4,396.2 L593.9,396.1 L594.3,396.1 L594.7,396.2 L595.1,396.2 L595.6,396.3 L596.0,396.4 L596.4,396.5 L596.8,396.6 L597.3,396.8 L597.7,396.9 L598.1,397.1 L598.5,397.2 L599.0,397.4 L599.4,397.5 L599.8,397.8 L600.2,398.0 L600.6,398.2 L601.1,398.5 L601.5,398.8 L601.9,399.1 L602.3,399.5 L602.8,399.9 L603.2,400.3 L603.6,400.8 L604.0,401.5 L604.5,402.3 L604.9,403.2 L605.3,404.1 L605.7,405.0 L606.2,405.9 L606.6,406.8 L607.0,407.6 L607.4,408.3 L607.9,409.0 L608.3,409.7 L608.7,410.3 L609.1,411.0 L609.5,411.6 L610.0,412.2 L610.4,412.9 L610.8,413.5 L611.2,414.1 L611.7,414.7 L612.1,415.2 L612.5,415.8 L612.9,416.4 L613.4,417.0 L613.8,417.6 L614.2,418.1 L614.6,418.7 L615.1,419.3 L615.5,419.8 L615.9,420.4 L616.3,420.9 L616.8,421.4 L617.2,422.0 L617.6,422.5 L618.0,423.0 L618.4,423.6 L618.9,424.1 L619.3,424.6 L619.7,425.2 L620.1,425.7 L620.6,426.2 L621.0,426.7 L621.4,427.2 L621.8,427.7 L622.3,428.2 L622.7,428.7 L623.1,429.1 L623.5,429.5 L624.0,430.0 L624.4,430.4 L624.8,430.8 L625.2,431.2 L625.7,431.6 L626.1,432.0 L626.5,432.4 L626.9,432.8 L627.3,433.2 L627.8,433.5 L628.2,433.8 L628.6,434.2 L629.0,434.5 L629.5,434.8 L629.9,435.0 L630.3,435.3 L630.7,435.5 L631.2,435.7 L631.6,436.0 L632.0,436.2 L632.4,436.4 L632.9,436.6 L633.3,436.8 L633.7,437.0 L634.1,437.2 L634.6,437.3 L635.0,437.5 L635.4,437.7 L635.8,437.8 L636.2,437.9 L636.7,438.0 L637.1,438.2 L637.5,438.3 L637.9,438.4 L638.4,438.5 L638.8,438.6 L639.2,438.7 L639.6,438.8 L640.1,438.9 L640.5,438.9 L640.9,439.0 L641.3,439.1 L641.8,439.2 L642.2,439.3 L642.6,439.3 L643.0,439.4 L643.5,439.5 L643.9,439.5 L644.3,439.6 L644.7,439.6 L645.1,439.6 L645.6,439.7 L646.0,439.7 L646.4,439.7" fill="none" stroke="#1c1c1c" stroke-width="1.8" stroke-dasharray="7 2.2"/>
<path d="M499.9,320.3 V439.7 H679.1" fill="none" stroke="#000" stroke-width="2"/>
<line x1="496.9" y1="439.7" x2="499.9" y2="439.7" stroke="#000" stroke-width="2"/>
<text transform="translate(495.6,442.8) scale(0.88,1)" text-anchor="end" font-size="8.70">0</text>
<line x1="496.9" y1="416.0" x2="499.9" y2="416.0" stroke="#000" stroke-width="2"/>
<text transform="translate(495.6,419.1) scale(0.88,1)" text-anchor="end" font-size="8.70">2</text>
<line x1="496.9" y1="392.3" x2="499.9" y2="392.3" stroke="#000" stroke-width="2"/>
<text transform="translate(495.6,395.4) scale(0.88,1)" text-anchor="end" font-size="8.70">4</text>
<line x1="496.9" y1="368.7" x2="499.9" y2="368.7" stroke="#000" stroke-width="2"/>
<text transform="translate(495.6,371.8) scale(0.88,1)" text-anchor="end" font-size="8.70">6</text>
<line x1="496.9" y1="345.0" x2="499.9" y2="345.0" stroke="#000" stroke-width="2"/>
<text transform="translate(495.6,348.1) scale(0.88,1)" text-anchor="end" font-size="8.70">8</text>
<line x1="496.9" y1="321.3" x2="499.9" y2="321.3" stroke="#000" stroke-width="2"/>
<text transform="translate(495.6,324.4) scale(0.88,1)" text-anchor="end" font-size="8.70">10</text>
<line x1="519.7" y1="439.7" x2="519.7" y2="443.2" stroke="#000" stroke-width="2"/>
<text x="519.7" y="452.4" text-anchor="middle" font-size="8.40">-0.2</text>
<line x1="559.3" y1="439.7" x2="559.3" y2="443.2" stroke="#000" stroke-width="2"/>
<text x="559.3" y="452.4" text-anchor="middle" font-size="8.40">0.0</text>
<line x1="598.9" y1="439.7" x2="598.9" y2="443.2" stroke="#000" stroke-width="2"/>
<text x="598.9" y="452.4" text-anchor="middle" font-size="8.40">0.2</text>
<line x1="638.5" y1="439.7" x2="638.5" y2="443.2" stroke="#000" stroke-width="2"/>
<text x="638.5" y="452.4" text-anchor="middle" font-size="8.40">0.4</text>
<line x1="678.1" y1="439.7" x2="678.1" y2="443.2" stroke="#000" stroke-width="2"/>
<text x="678.1" y="452.4" text-anchor="middle" font-size="8.40">0.6</text>
<text x="589.0" y="464.3" text-anchor="middle" font-size="8.45">fractional expansion</text>
<text transform="translate(480.2,379.2) rotate(-90)" text-anchor="middle" font-size="8.50">probability density function</text>
<text x="515.8" y="326.8" font-size="11.00" font-weight="bold">i)</text>
<text x="577.3" y="329.4" font-size="10.50">M9</text>
<text x="625.1" y="359.6" font-size="10.85">R<tspan font-size="7.80" dy="-4.7">2</tspan><tspan dy="4.7"> = 0.9515</tspan></text>
<rect x="628.0" y="370.9" width="52.1" height="28.6" fill="none" stroke="#000" stroke-width="1.3"/>
<text x="629.7" y="382.5" font-size="10.80">CD = 0.65</text>
<text x="629.7" y="394.8" font-size="10.80">HD = 1.78</text>
<text transform="translate(11.6,63.1) rotate(-90)" text-anchor="middle" font-size="12.5" style="fill:#f01424">healthy</text>
<text transform="translate(10.7,224.9) rotate(-90)" text-anchor="middle" font-size="12.5" style="fill:#f01424">heterogeneous</text>
<text transform="translate(13.2,381.0) rotate(-90)" text-anchor="middle" font-size="12.5" style="fill:#f01424">clustered</text>
<line x1="287.5" y1="406.0" x2="313.7" y2="419.4" stroke="#ee1c25" stroke-width="1.5"/>
<path d="M319.5,422.4 L312.3,422.1 L315.1,416.8 Z" fill="#ee1c25"/>
<line x1="328.2" y1="383.7" x2="347.1" y2="402.2" stroke="#1a2de8" stroke-width="1.5"/>
<path d="M351.7,406.8 L345.0,404.4 L349.2,400.1 Z" fill="#1a2de8"/>
</svg>
</body></html>
